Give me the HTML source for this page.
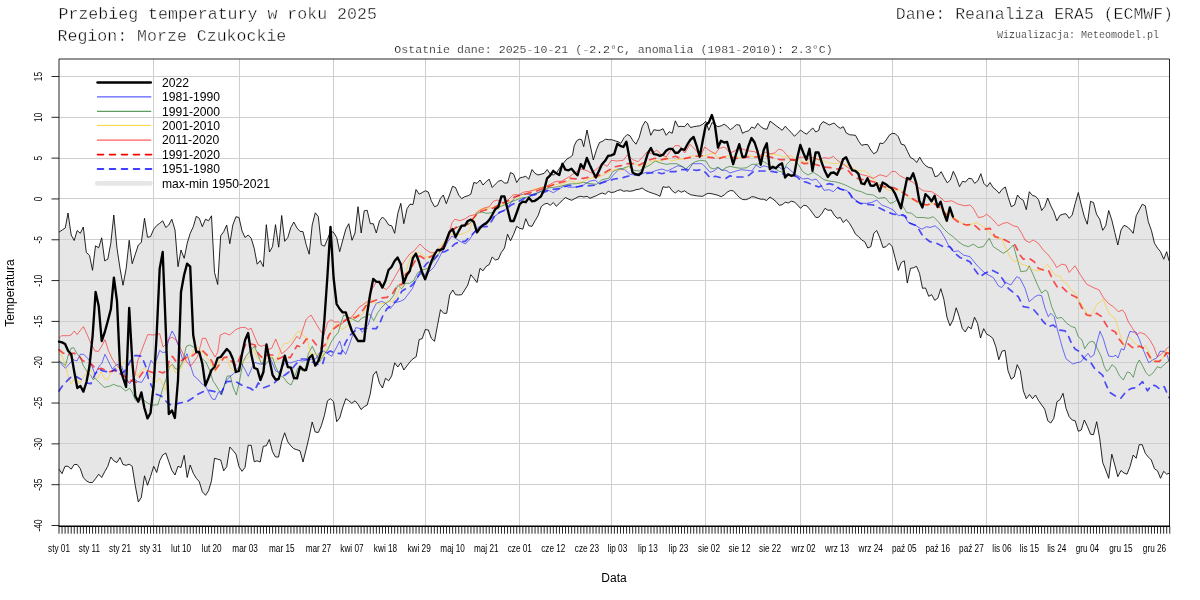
<!DOCTYPE html>
<html><head><meta charset="utf-8"><title>chart</title>
<style>
html,body{margin:0;padding:0;background:#fff;}
body{width:1200px;height:600px;overflow:hidden;position:relative;font-family:"Liberation Sans",sans-serif;}
svg{position:absolute;left:0;top:0;will-change:transform;}
.mono{font-family:"Liberation Mono",monospace;fill:#000;stroke:#fff;stroke-width:0.4px;}
.mono.sm{stroke-width:0.22px;fill:#111;}
.sans{font-family:"Liberation Sans",sans-serif;fill:#000;}
</style></head><body>
<svg width="1200" height="600" viewBox="0 0 1200 600">
<rect width="1200" height="600" fill="#fff"/>

<path d="M59.2,232.0 L62.2,230.0 L65.3,227.8 L68.0,213.0 L71.2,235.0 L74.2,240.5 L77.2,230.5 L80.3,233.3 L83.3,227.0 L86.3,252.5 L89.5,255.3 L92.5,270.3 L95.5,245.8 L98.7,247.8 L101.7,237.8 L104.7,260.8 L107.8,259.2 L110.8,243.3 L113.8,215.0 L117.0,248.3 L120.0,268.3 L123.0,285.3 L126.2,268.3 L129.2,240.3 L132.2,263.7 L135.3,254.2 L138.3,245.0 L141.3,242.5 L144.5,218.3 L147.5,237.2 L150.5,236.7 L153.7,229.2 L156.7,225.5 L159.7,223.3 L162.7,220.8 L165.8,227.5 L168.8,225.0 L171.8,219.2 L175.0,230.0 L178.0,266.7 L181.0,250.0 L184.2,258.3 L187.2,243.3 L190.2,233.3 L193.3,226.7 L196.3,216.3 L199.3,218.3 L202.3,226.7 L205.5,219.2 L208.5,220.8 L211.5,215.8 L214.5,272.5 L217.7,284.5 L220.7,235.8 L223.7,231.7 L226.7,225.0 L229.8,243.7 L232.8,225.0 L236.0,216.7 L239.0,217.5 L242.0,230.8 L245.0,237.5 L248.2,235.0 L251.2,238.3 L254.2,248.3 L257.2,264.2 L260.3,260.5 L263.3,266.7 L266.3,224.7 L269.5,252.0 L272.5,246.7 L275.5,224.7 L278.7,247.2 L281.7,215.5 L284.7,241.3 L287.8,237.5 L290.8,227.5 L293.8,222.0 L297.0,228.0 L300.0,231.3 L303.0,231.7 L306.2,244.7 L309.2,254.2 L312.2,225.0 L315.3,212.8 L318.3,216.7 L321.3,244.7 L324.5,246.2 L327.5,239.2 L330.5,231.7 L333.3,232.0 L336.7,237.5 L339.7,251.7 L342.8,240.0 L345.8,229.2 L348.8,223.7 L352.0,240.3 L355.0,233.0 L358.0,206.7 L361.2,233.0 L364.2,210.8 L367.2,210.3 L370.3,223.7 L373.3,223.7 L376.3,233.0 L379.5,220.8 L382.5,217.0 L385.5,220.0 L388.7,225.0 L391.7,225.8 L394.7,233.3 L397.8,213.3 L400.8,203.3 L403.8,223.7 L407.0,208.7 L410.0,204.2 L413.0,204.5 L416.0,189.5 L419.2,194.2 L422.2,192.5 L425.3,190.8 L428.3,192.0 L431.3,200.8 L434.5,206.7 L437.5,205.5 L440.5,198.3 L443.3,195.0 L446.3,203.7 L449.5,195.0 L452.5,186.3 L455.5,187.5 L458.7,195.0 L461.7,198.7 L464.7,196.7 L467.8,195.8 L470.8,194.2 L473.8,182.5 L477.0,183.3 L480.0,180.0 L483.0,185.0 L486.2,181.7 L489.2,179.2 L492.2,187.5 L495.3,184.2 L498.3,181.3 L501.3,180.3 L504.5,183.0 L507.5,183.0 L510.5,172.5 L513.7,174.2 L516.7,182.5 L519.7,178.0 L522.8,177.2 L525.8,176.3 L528.8,179.2 L532.0,169.5 L535.0,173.3 L538.0,175.0 L541.2,174.2 L544.2,173.3 L547.2,169.5 L550.3,174.2 L553.3,175.0 L556.7,172.5 L560.0,167.5 L563.3,163.3 L566.7,159.2 L569.7,157.5 L572.5,155.3 L574.2,145.8 L576.7,140.8 L579.2,139.2 L581.7,139.7 L583.7,146.7 L587.0,130.0 L590.0,144.2 L593.3,160.0 L596.7,149.2 L599.5,142.5 L602.5,141.3 L605.5,139.2 L608.7,139.7 L611.7,139.7 L615.0,140.8 L618.0,141.7 L620.8,143.3 L624.2,137.5 L627.2,134.5 L630.0,135.8 L633.0,140.8 L636.0,144.2 L639.2,137.5 L642.2,126.7 L645.2,121.3 L647.5,123.3 L650.8,135.3 L653.8,129.7 L657.0,130.3 L660.0,130.3 L663.0,128.7 L666.2,135.3 L669.2,131.7 L672.2,133.3 L675.3,120.8 L678.3,126.7 L681.3,126.3 L684.5,126.7 L687.5,123.3 L690.5,127.5 L693.7,126.7 L696.7,126.2 L699.7,125.8 L702.8,124.2 L705.8,121.3 L708.8,130.3 L712.0,122.5 L715.0,125.0 L718.0,126.7 L721.2,125.8 L724.2,124.2 L727.2,126.3 L730.3,129.7 L733.3,127.5 L736.3,124.7 L739.5,125.0 L742.5,133.3 L745.5,131.7 L748.7,130.8 L751.7,127.0 L754.7,128.3 L757.8,123.3 L760.8,126.7 L763.8,128.7 L767.0,129.2 L770.0,121.2 L773.0,123.3 L776.2,125.8 L779.2,128.0 L782.2,130.3 L785.3,126.2 L788.3,129.7 L791.3,132.5 L794.5,136.3 L797.5,133.3 L800.5,130.0 L803.7,132.5 L806.7,134.2 L809.7,130.8 L812.8,128.0 L815.8,132.0 L818.8,130.3 L820.0,125.3 L823.0,121.7 L826.0,123.0 L829.2,125.0 L832.2,123.7 L834.2,123.0 L837.2,126.2 L840.3,128.3 L843.3,126.7 L846.3,133.0 L849.5,134.7 L852.5,135.0 L855.5,135.3 L858.7,141.3 L861.7,145.3 L864.7,144.5 L867.8,144.7 L870.8,150.0 L873.8,153.8 L877.0,151.7 L880.0,143.0 L883.0,143.7 L886.2,140.0 L889.2,135.3 L892.2,133.3 L895.3,133.7 L898.3,136.7 L901.3,144.2 L904.5,145.0 L907.5,151.3 L910.5,157.5 L913.7,159.2 L916.7,162.5 L919.7,157.2 L922.8,162.5 L925.8,165.8 L928.8,167.5 L932.0,168.0 L935.0,176.7 L938.0,175.8 L941.2,171.7 L944.2,177.5 L947.2,182.8 L950.3,180.0 L953.3,171.3 L956.3,177.5 L959.5,186.7 L962.5,181.3 L965.5,182.0 L968.7,178.3 L971.7,178.7 L974.7,183.3 L977.8,180.8 L980.8,173.7 L983.8,183.3 L987.0,186.7 L990.0,182.5 L993.0,187.5 L996.2,190.0 L999.2,193.3 L1002.2,189.2 L1005.3,187.0 L1008.3,197.5 L1011.3,206.7 L1014.5,205.0 L1017.5,195.0 L1020.2,198.3 L1023.3,200.3 L1026.3,209.7 L1029.3,191.7 L1032.5,195.5 L1035.5,196.3 L1038.5,199.7 L1041.7,210.5 L1044.7,206.7 L1047.7,198.0 L1050.8,205.8 L1053.8,211.7 L1056.8,220.8 L1060.0,215.3 L1063.0,214.2 L1066.0,213.7 L1069.2,218.3 L1072.2,215.0 L1075.2,203.3 L1078.3,192.5 L1081.3,205.0 L1084.3,216.7 L1087.3,224.2 L1090.5,201.3 L1093.5,202.5 L1096.5,214.2 L1099.7,219.2 L1102.7,230.3 L1105.7,225.8 L1108.7,210.5 L1111.8,220.0 L1114.8,232.5 L1117.8,245.0 L1121.0,230.0 L1124.0,225.3 L1127.0,226.7 L1130.0,229.2 L1133.2,233.3 L1136.2,215.8 L1139.2,210.0 L1142.3,204.2 L1145.3,205.8 L1148.3,221.7 L1151.5,230.8 L1154.5,243.3 L1157.5,248.0 L1160.5,251.7 L1163.7,259.2 L1166.7,251.7 L1169.0,260.8 L1169.0,473.3 L1166.7,474.2 L1163.7,471.3 L1160.5,478.3 L1157.5,470.8 L1154.5,468.8 L1151.3,460.0 L1148.3,457.0 L1145.3,453.3 L1142.2,444.7 L1139.2,444.7 L1136.2,458.3 L1133.2,455.0 L1130.0,466.7 L1127.0,474.2 L1124.0,473.0 L1121.0,470.5 L1117.8,476.7 L1114.8,465.0 L1111.8,454.2 L1108.7,478.3 L1105.7,470.0 L1102.7,462.5 L1099.7,438.3 L1096.7,421.7 L1093.5,434.7 L1090.5,434.2 L1087.5,426.7 L1084.3,420.0 L1081.3,430.0 L1078.3,431.3 L1075.2,420.8 L1072.2,420.0 L1069.2,416.7 L1066.0,408.3 L1063.0,393.3 L1060.0,399.7 L1057.0,401.7 L1053.8,418.3 L1050.8,423.0 L1047.8,420.8 L1044.7,409.2 L1041.7,405.0 L1038.7,400.8 L1035.5,395.0 L1032.5,398.7 L1029.5,394.5 L1026.3,398.7 L1023.3,390.8 L1020.3,370.8 L1017.2,364.7 L1014.2,377.0 L1011.2,379.2 L1008.0,370.8 L1005.0,350.3 L1002.0,351.2 L998.8,359.7 L995.8,346.7 L992.8,338.3 L989.7,335.8 L986.7,334.2 L983.7,328.7 L980.5,338.0 L977.5,323.3 L974.5,317.2 L971.3,328.8 L968.3,326.7 L965.3,332.0 L962.2,328.3 L959.2,316.7 L956.2,307.8 L953.0,320.0 L950.0,325.8 L947.0,317.5 L943.8,299.2 L940.8,288.7 L937.8,298.3 L934.7,300.3 L931.7,294.7 L928.7,296.3 L925.5,288.0 L922.5,288.3 L919.5,273.3 L916.5,266.3 L913.5,267.8 L910.5,268.3 L907.3,283.0 L904.3,260.8 L901.3,262.5 L898.3,270.3 L895.2,258.3 L892.2,246.7 L889.2,243.3 L886.0,246.7 L883.0,247.5 L880.0,238.3 L876.7,230.5 L873.8,233.3 L870.8,246.7 L867.8,248.0 L864.7,241.7 L861.7,240.0 L858.7,236.7 L855.5,234.2 L852.5,228.3 L849.5,223.3 L846.3,219.5 L843.3,222.5 L840.3,217.5 L837.2,218.3 L834.2,215.0 L831.2,210.0 L828.0,210.3 L825.0,208.3 L822.0,213.3 L818.8,217.2 L815.8,217.5 L812.8,213.3 L809.7,209.2 L806.7,205.8 L803.7,205.3 L800.5,208.3 L797.5,205.0 L794.5,202.0 L791.3,201.2 L788.3,203.0 L785.3,202.2 L782.2,204.7 L779.2,205.3 L776.2,201.7 L773.0,199.2 L770.0,197.0 L766.7,200.5 L763.3,199.2 L760.8,199.2 L757.8,198.3 L754.7,197.0 L751.7,196.7 L748.7,198.7 L745.5,199.7 L742.5,199.5 L739.5,197.5 L736.3,194.2 L733.3,190.8 L730.3,190.5 L727.2,192.2 L724.2,195.0 L721.2,196.7 L718.0,195.3 L715.0,194.5 L712.0,193.8 L708.8,193.3 L705.8,194.2 L702.8,196.3 L699.7,196.2 L696.7,195.8 L693.7,195.3 L690.5,194.7 L687.5,193.0 L684.5,190.8 L681.3,192.2 L678.3,190.5 L675.3,193.0 L672.2,190.8 L669.2,186.7 L666.2,187.5 L663.0,186.7 L660.0,196.3 L657.5,195.0 L654.3,193.8 L651.3,192.8 L648.3,191.7 L645.2,190.3 L642.2,188.0 L639.2,189.2 L636.0,189.7 L633.0,190.8 L629.7,191.3 L626.7,190.8 L623.7,191.3 L620.5,189.7 L617.5,190.5 L614.5,192.0 L611.3,192.5 L608.3,191.3 L605.3,194.2 L602.2,193.0 L599.2,194.2 L596.2,195.8 L593.0,197.0 L590.0,198.3 L587.0,196.3 L583.8,197.0 L580.8,196.3 L577.8,197.0 L574.7,198.7 L571.7,200.3 L568.7,199.2 L565.5,197.5 L562.5,200.0 L559.5,203.3 L556.3,206.3 L553.3,202.5 L550.3,205.3 L547.2,203.3 L544.2,204.2 L541.2,206.7 L538.0,215.8 L535.0,220.8 L532.0,226.3 L528.8,225.8 L525.8,218.7 L522.8,229.2 L519.7,228.3 L516.7,226.3 L513.7,234.2 L510.5,240.8 L507.5,234.2 L504.5,248.0 L501.3,252.5 L498.3,259.2 L495.3,260.0 L492.2,257.0 L489.2,264.7 L486.2,266.3 L483.0,270.8 L480.0,268.3 L477.0,282.5 L473.8,278.3 L470.8,274.7 L467.8,285.0 L464.7,290.0 L461.7,294.7 L458.7,295.0 L455.5,294.7 L452.8,290.0 L449.7,295.0 L446.7,313.3 L443.7,313.3 L440.5,309.7 L437.5,325.3 L434.5,341.3 L431.3,338.3 L428.3,330.0 L425.3,329.5 L422.2,338.7 L419.2,339.5 L416.2,356.7 L413.0,358.8 L410.0,361.7 L407.0,365.8 L403.8,370.0 L400.8,362.8 L397.8,367.0 L394.7,362.8 L391.7,375.8 L388.7,380.8 L385.5,378.3 L382.5,388.0 L379.5,383.3 L376.3,371.3 L373.3,375.0 L370.2,394.2 L367.2,405.0 L364.2,406.7 L361.0,409.5 L358.0,404.2 L355.0,400.8 L351.8,403.3 L348.8,400.8 L345.8,398.7 L342.7,407.5 L339.7,418.0 L336.7,421.7 L333.5,401.7 L330.5,398.7 L327.5,400.8 L324.3,415.8 L321.3,425.8 L318.3,432.5 L315.2,432.0 L312.2,422.0 L309.2,436.7 L306.0,450.0 L303.0,462.0 L300.0,450.8 L296.8,449.7 L293.8,448.7 L290.8,445.8 L287.7,441.7 L284.7,432.8 L281.7,441.7 L278.5,457.0 L275.5,457.0 L272.5,451.7 L269.3,439.5 L266.3,445.8 L263.3,446.3 L260.2,462.0 L257.2,460.8 L254.2,461.7 L251.2,445.3 L248.2,445.3 L245.0,467.5 L242.0,471.3 L239.0,466.7 L236.0,454.2 L232.8,450.3 L229.8,447.0 L226.7,466.7 L223.7,470.8 L220.7,460.0 L217.7,459.2 L214.5,458.3 L211.5,480.8 L208.5,490.8 L205.5,495.3 L202.3,491.7 L199.3,481.7 L196.3,478.3 L193.3,473.3 L190.2,465.0 L187.2,477.5 L184.2,455.3 L181.0,467.5 L178.0,466.3 L175.0,475.0 L171.8,470.3 L168.8,461.7 L165.8,453.0 L162.7,455.0 L159.7,460.8 L156.7,472.5 L153.7,466.3 L150.5,476.7 L147.5,485.3 L144.5,475.8 L141.3,497.5 L138.3,502.0 L135.3,485.8 L132.2,466.3 L129.2,464.2 L126.2,465.3 L123.0,464.5 L120.0,457.5 L117.0,462.5 L113.8,460.8 L110.8,457.0 L107.8,466.3 L104.7,471.7 L101.7,477.5 L98.7,474.2 L95.5,478.7 L92.5,482.5 L89.5,482.5 L86.3,480.8 L83.3,477.5 L80.3,468.7 L77.2,464.5 L74.2,464.5 L71.2,469.2 L68.0,466.3 L65.0,466.3 L62.0,473.7 L59.0,469.2 Z" fill="#e6e6e6" stroke="none"/>
<line x1="153.5" y1="59" x2="153.5" y2="526" stroke="#cecece" stroke-width="1"/>
<line x1="239.5" y1="59" x2="239.5" y2="526" stroke="#cecece" stroke-width="1"/>
<line x1="333.5" y1="59" x2="333.5" y2="526" stroke="#cecece" stroke-width="1"/>
<line x1="425.5" y1="59" x2="425.5" y2="526" stroke="#cecece" stroke-width="1"/>
<line x1="519.5" y1="59" x2="519.5" y2="526" stroke="#cecece" stroke-width="1"/>
<line x1="611.5" y1="59" x2="611.5" y2="526" stroke="#cecece" stroke-width="1"/>
<line x1="705.5" y1="59" x2="705.5" y2="526" stroke="#cecece" stroke-width="1"/>
<line x1="800.5" y1="59" x2="800.5" y2="526" stroke="#cecece" stroke-width="1"/>
<line x1="892.5" y1="59" x2="892.5" y2="526" stroke="#cecece" stroke-width="1"/>
<line x1="986.5" y1="59" x2="986.5" y2="526" stroke="#cecece" stroke-width="1"/>
<line x1="1078.5" y1="59" x2="1078.5" y2="526" stroke="#cecece" stroke-width="1"/>
<line x1="59" y1="484.50" x2="1169.5" y2="484.50" stroke="#cecece" stroke-width="1"/>
<line x1="59" y1="443.50" x2="1169.5" y2="443.50" stroke="#cecece" stroke-width="1"/>
<line x1="59" y1="403.50" x2="1169.5" y2="403.50" stroke="#cecece" stroke-width="1"/>
<line x1="59" y1="362.50" x2="1169.5" y2="362.50" stroke="#cecece" stroke-width="1"/>
<line x1="59" y1="321.50" x2="1169.5" y2="321.50" stroke="#cecece" stroke-width="1"/>
<line x1="59" y1="280.50" x2="1169.5" y2="280.50" stroke="#cecece" stroke-width="1"/>
<line x1="59" y1="239.50" x2="1169.5" y2="239.50" stroke="#cecece" stroke-width="1"/>
<line x1="59" y1="198.50" x2="1169.5" y2="198.50" stroke="#cecece" stroke-width="1"/>
<line x1="59" y1="158.50" x2="1169.5" y2="158.50" stroke="#cecece" stroke-width="1"/>
<line x1="59" y1="117.50" x2="1169.5" y2="117.50" stroke="#cecece" stroke-width="1"/>
<line x1="59" y1="76.50" x2="1169.5" y2="76.50" stroke="#cecece" stroke-width="1"/>
<path d="M59.2,232.0 L62.2,230.0 L65.3,227.8 L68.0,213.0 L71.2,235.0 L74.2,240.5 L77.2,230.5 L80.3,233.3 L83.3,227.0 L86.3,252.5 L89.5,255.3 L92.5,270.3 L95.5,245.8 L98.7,247.8 L101.7,237.8 L104.7,260.8 L107.8,259.2 L110.8,243.3 L113.8,215.0 L117.0,248.3 L120.0,268.3 L123.0,285.3 L126.2,268.3 L129.2,240.3 L132.2,263.7 L135.3,254.2 L138.3,245.0 L141.3,242.5 L144.5,218.3 L147.5,237.2 L150.5,236.7 L153.7,229.2 L156.7,225.5 L159.7,223.3 L162.7,220.8 L165.8,227.5 L168.8,225.0 L171.8,219.2 L175.0,230.0 L178.0,266.7 L181.0,250.0 L184.2,258.3 L187.2,243.3 L190.2,233.3 L193.3,226.7 L196.3,216.3 L199.3,218.3 L202.3,226.7 L205.5,219.2 L208.5,220.8 L211.5,215.8 L214.5,272.5 L217.7,284.5 L220.7,235.8 L223.7,231.7 L226.7,225.0 L229.8,243.7 L232.8,225.0 L236.0,216.7 L239.0,217.5 L242.0,230.8 L245.0,237.5 L248.2,235.0 L251.2,238.3 L254.2,248.3 L257.2,264.2 L260.3,260.5 L263.3,266.7 L266.3,224.7 L269.5,252.0 L272.5,246.7 L275.5,224.7 L278.7,247.2 L281.7,215.5 L284.7,241.3 L287.8,237.5 L290.8,227.5 L293.8,222.0 L297.0,228.0 L300.0,231.3 L303.0,231.7 L306.2,244.7 L309.2,254.2 L312.2,225.0 L315.3,212.8 L318.3,216.7 L321.3,244.7 L324.5,246.2 L327.5,239.2 L330.5,231.7 L333.3,232.0 L336.7,237.5 L339.7,251.7 L342.8,240.0 L345.8,229.2 L348.8,223.7 L352.0,240.3 L355.0,233.0 L358.0,206.7 L361.2,233.0 L364.2,210.8 L367.2,210.3 L370.3,223.7 L373.3,223.7 L376.3,233.0 L379.5,220.8 L382.5,217.0 L385.5,220.0 L388.7,225.0 L391.7,225.8 L394.7,233.3 L397.8,213.3 L400.8,203.3 L403.8,223.7 L407.0,208.7 L410.0,204.2 L413.0,204.5 L416.0,189.5 L419.2,194.2 L422.2,192.5 L425.3,190.8 L428.3,192.0 L431.3,200.8 L434.5,206.7 L437.5,205.5 L440.5,198.3 L443.3,195.0 L446.3,203.7 L449.5,195.0 L452.5,186.3 L455.5,187.5 L458.7,195.0 L461.7,198.7 L464.7,196.7 L467.8,195.8 L470.8,194.2 L473.8,182.5 L477.0,183.3 L480.0,180.0 L483.0,185.0 L486.2,181.7 L489.2,179.2 L492.2,187.5 L495.3,184.2 L498.3,181.3 L501.3,180.3 L504.5,183.0 L507.5,183.0 L510.5,172.5 L513.7,174.2 L516.7,182.5 L519.7,178.0 L522.8,177.2 L525.8,176.3 L528.8,179.2 L532.0,169.5 L535.0,173.3 L538.0,175.0 L541.2,174.2 L544.2,173.3 L547.2,169.5 L550.3,174.2 L553.3,175.0 L556.7,172.5 L560.0,167.5 L563.3,163.3 L566.7,159.2 L569.7,157.5 L572.5,155.3 L574.2,145.8 L576.7,140.8 L579.2,139.2 L581.7,139.7 L583.7,146.7 L587.0,130.0 L590.0,144.2 L593.3,160.0 L596.7,149.2 L599.5,142.5 L602.5,141.3 L605.5,139.2 L608.7,139.7 L611.7,139.7 L615.0,140.8 L618.0,141.7 L620.8,143.3 L624.2,137.5 L627.2,134.5 L630.0,135.8 L633.0,140.8 L636.0,144.2 L639.2,137.5 L642.2,126.7 L645.2,121.3 L647.5,123.3 L650.8,135.3 L653.8,129.7 L657.0,130.3 L660.0,130.3 L663.0,128.7 L666.2,135.3 L669.2,131.7 L672.2,133.3 L675.3,120.8 L678.3,126.7 L681.3,126.3 L684.5,126.7 L687.5,123.3 L690.5,127.5 L693.7,126.7 L696.7,126.2 L699.7,125.8 L702.8,124.2 L705.8,121.3 L708.8,130.3 L712.0,122.5 L715.0,125.0 L718.0,126.7 L721.2,125.8 L724.2,124.2 L727.2,126.3 L730.3,129.7 L733.3,127.5 L736.3,124.7 L739.5,125.0 L742.5,133.3 L745.5,131.7 L748.7,130.8 L751.7,127.0 L754.7,128.3 L757.8,123.3 L760.8,126.7 L763.8,128.7 L767.0,129.2 L770.0,121.2 L773.0,123.3 L776.2,125.8 L779.2,128.0 L782.2,130.3 L785.3,126.2 L788.3,129.7 L791.3,132.5 L794.5,136.3 L797.5,133.3 L800.5,130.0 L803.7,132.5 L806.7,134.2 L809.7,130.8 L812.8,128.0 L815.8,132.0 L818.8,130.3 L820.0,125.3 L823.0,121.7 L826.0,123.0 L829.2,125.0 L832.2,123.7 L834.2,123.0 L837.2,126.2 L840.3,128.3 L843.3,126.7 L846.3,133.0 L849.5,134.7 L852.5,135.0 L855.5,135.3 L858.7,141.3 L861.7,145.3 L864.7,144.5 L867.8,144.7 L870.8,150.0 L873.8,153.8 L877.0,151.7 L880.0,143.0 L883.0,143.7 L886.2,140.0 L889.2,135.3 L892.2,133.3 L895.3,133.7 L898.3,136.7 L901.3,144.2 L904.5,145.0 L907.5,151.3 L910.5,157.5 L913.7,159.2 L916.7,162.5 L919.7,157.2 L922.8,162.5 L925.8,165.8 L928.8,167.5 L932.0,168.0 L935.0,176.7 L938.0,175.8 L941.2,171.7 L944.2,177.5 L947.2,182.8 L950.3,180.0 L953.3,171.3 L956.3,177.5 L959.5,186.7 L962.5,181.3 L965.5,182.0 L968.7,178.3 L971.7,178.7 L974.7,183.3 L977.8,180.8 L980.8,173.7 L983.8,183.3 L987.0,186.7 L990.0,182.5 L993.0,187.5 L996.2,190.0 L999.2,193.3 L1002.2,189.2 L1005.3,187.0 L1008.3,197.5 L1011.3,206.7 L1014.5,205.0 L1017.5,195.0 L1020.2,198.3 L1023.3,200.3 L1026.3,209.7 L1029.3,191.7 L1032.5,195.5 L1035.5,196.3 L1038.5,199.7 L1041.7,210.5 L1044.7,206.7 L1047.7,198.0 L1050.8,205.8 L1053.8,211.7 L1056.8,220.8 L1060.0,215.3 L1063.0,214.2 L1066.0,213.7 L1069.2,218.3 L1072.2,215.0 L1075.2,203.3 L1078.3,192.5 L1081.3,205.0 L1084.3,216.7 L1087.3,224.2 L1090.5,201.3 L1093.5,202.5 L1096.5,214.2 L1099.7,219.2 L1102.7,230.3 L1105.7,225.8 L1108.7,210.5 L1111.8,220.0 L1114.8,232.5 L1117.8,245.0 L1121.0,230.0 L1124.0,225.3 L1127.0,226.7 L1130.0,229.2 L1133.2,233.3 L1136.2,215.8 L1139.2,210.0 L1142.3,204.2 L1145.3,205.8 L1148.3,221.7 L1151.5,230.8 L1154.5,243.3 L1157.5,248.0 L1160.5,251.7 L1163.7,259.2 L1166.7,251.7 L1169.0,260.8" fill="none" stroke="#000" stroke-width="0.85" stroke-linejoin="round"/>
<path d="M59.0,469.2 L62.0,473.7 L65.0,466.3 L68.0,466.3 L71.2,469.2 L74.2,464.5 L77.2,464.5 L80.3,468.7 L83.3,477.5 L86.3,480.8 L89.5,482.5 L92.5,482.5 L95.5,478.7 L98.7,474.2 L101.7,477.5 L104.7,471.7 L107.8,466.3 L110.8,457.0 L113.8,460.8 L117.0,462.5 L120.0,457.5 L123.0,464.5 L126.2,465.3 L129.2,464.2 L132.2,466.3 L135.3,485.8 L138.3,502.0 L141.3,497.5 L144.5,475.8 L147.5,485.3 L150.5,476.7 L153.7,466.3 L156.7,472.5 L159.7,460.8 L162.7,455.0 L165.8,453.0 L168.8,461.7 L171.8,470.3 L175.0,475.0 L178.0,466.3 L181.0,467.5 L184.2,455.3 L187.2,477.5 L190.2,465.0 L193.3,473.3 L196.3,478.3 L199.3,481.7 L202.3,491.7 L205.5,495.3 L208.5,490.8 L211.5,480.8 L214.5,458.3 L217.7,459.2 L220.7,460.0 L223.7,470.8 L226.7,466.7 L229.8,447.0 L232.8,450.3 L236.0,454.2 L239.0,466.7 L242.0,471.3 L245.0,467.5 L248.2,445.3 L251.2,445.3 L254.2,461.7 L257.2,460.8 L260.2,462.0 L263.3,446.3 L266.3,445.8 L269.3,439.5 L272.5,451.7 L275.5,457.0 L278.5,457.0 L281.7,441.7 L284.7,432.8 L287.7,441.7 L290.8,445.8 L293.8,448.7 L296.8,449.7 L300.0,450.8 L303.0,462.0 L306.0,450.0 L309.2,436.7 L312.2,422.0 L315.2,432.0 L318.3,432.5 L321.3,425.8 L324.3,415.8 L327.5,400.8 L330.5,398.7 L333.5,401.7 L336.7,421.7 L339.7,418.0 L342.7,407.5 L345.8,398.7 L348.8,400.8 L351.8,403.3 L355.0,400.8 L358.0,404.2 L361.0,409.5 L364.2,406.7 L367.2,405.0 L370.2,394.2 L373.3,375.0 L376.3,371.3 L379.5,383.3 L382.5,388.0 L385.5,378.3 L388.7,380.8 L391.7,375.8 L394.7,362.8 L397.8,367.0 L400.8,362.8 L403.8,370.0 L407.0,365.8 L410.0,361.7 L413.0,358.8 L416.2,356.7 L419.2,339.5 L422.2,338.7 L425.3,329.5 L428.3,330.0 L431.3,338.3 L434.5,341.3 L437.5,325.3 L440.5,309.7 L443.7,313.3 L446.7,313.3 L449.7,295.0 L452.8,290.0 L455.5,294.7 L458.7,295.0 L461.7,294.7 L464.7,290.0 L467.8,285.0 L470.8,274.7 L473.8,278.3 L477.0,282.5 L480.0,268.3 L483.0,270.8 L486.2,266.3 L489.2,264.7 L492.2,257.0 L495.3,260.0 L498.3,259.2 L501.3,252.5 L504.5,248.0 L507.5,234.2 L510.5,240.8 L513.7,234.2 L516.7,226.3 L519.7,228.3 L522.8,229.2 L525.8,218.7 L528.8,225.8 L532.0,226.3 L535.0,220.8 L538.0,215.8 L541.2,206.7 L544.2,204.2 L547.2,203.3 L550.3,205.3 L553.3,202.5 L556.3,206.3 L559.5,203.3 L562.5,200.0 L565.5,197.5 L568.7,199.2 L571.7,200.3 L574.7,198.7 L577.8,197.0 L580.8,196.3 L583.8,197.0 L587.0,196.3 L590.0,198.3 L593.0,197.0 L596.2,195.8 L599.2,194.2 L602.2,193.0 L605.3,194.2 L608.3,191.3 L611.3,192.5 L614.5,192.0 L617.5,190.5 L620.5,189.7 L623.7,191.3 L626.7,190.8 L629.7,191.3 L633.0,190.8 L636.0,189.7 L639.2,189.2 L642.2,188.0 L645.2,190.3 L648.3,191.7 L651.3,192.8 L654.3,193.8 L657.5,195.0 L660.0,196.3 L663.0,186.7 L666.2,187.5 L669.2,186.7 L672.2,190.8 L675.3,193.0 L678.3,190.5 L681.3,192.2 L684.5,190.8 L687.5,193.0 L690.5,194.7 L693.7,195.3 L696.7,195.8 L699.7,196.2 L702.8,196.3 L705.8,194.2 L708.8,193.3 L712.0,193.8 L715.0,194.5 L718.0,195.3 L721.2,196.7 L724.2,195.0 L727.2,192.2 L730.3,190.5 L733.3,190.8 L736.3,194.2 L739.5,197.5 L742.5,199.5 L745.5,199.7 L748.7,198.7 L751.7,196.7 L754.7,197.0 L757.8,198.3 L760.8,199.2 L763.3,199.2 L766.7,200.5 L770.0,197.0 L773.0,199.2 L776.2,201.7 L779.2,205.3 L782.2,204.7 L785.3,202.2 L788.3,203.0 L791.3,201.2 L794.5,202.0 L797.5,205.0 L800.5,208.3 L803.7,205.3 L806.7,205.8 L809.7,209.2 L812.8,213.3 L815.8,217.5 L818.8,217.2 L822.0,213.3 L825.0,208.3 L828.0,210.3 L831.2,210.0 L834.2,215.0 L837.2,218.3 L840.3,217.5 L843.3,222.5 L846.3,219.5 L849.5,223.3 L852.5,228.3 L855.5,234.2 L858.7,236.7 L861.7,240.0 L864.7,241.7 L867.8,248.0 L870.8,246.7 L873.8,233.3 L876.7,230.5 L880.0,238.3 L883.0,247.5 L886.0,246.7 L889.2,243.3 L892.2,246.7 L895.2,258.3 L898.3,270.3 L901.3,262.5 L904.3,260.8 L907.3,283.0 L910.5,268.3 L913.5,267.8 L916.5,266.3 L919.5,273.3 L922.5,288.3 L925.5,288.0 L928.7,296.3 L931.7,294.7 L934.7,300.3 L937.8,298.3 L940.8,288.7 L943.8,299.2 L947.0,317.5 L950.0,325.8 L953.0,320.0 L956.2,307.8 L959.2,316.7 L962.2,328.3 L965.3,332.0 L968.3,326.7 L971.3,328.8 L974.5,317.2 L977.5,323.3 L980.5,338.0 L983.7,328.7 L986.7,334.2 L989.7,335.8 L992.8,338.3 L995.8,346.7 L998.8,359.7 L1002.0,351.2 L1005.0,350.3 L1008.0,370.8 L1011.2,379.2 L1014.2,377.0 L1017.2,364.7 L1020.3,370.8 L1023.3,390.8 L1026.3,398.7 L1029.5,394.5 L1032.5,398.7 L1035.5,395.0 L1038.7,400.8 L1041.7,405.0 L1044.7,409.2 L1047.8,420.8 L1050.8,423.0 L1053.8,418.3 L1057.0,401.7 L1060.0,399.7 L1063.0,393.3 L1066.0,408.3 L1069.2,416.7 L1072.2,420.0 L1075.2,420.8 L1078.3,431.3 L1081.3,430.0 L1084.3,420.0 L1087.5,426.7 L1090.5,434.2 L1093.5,434.7 L1096.7,421.7 L1099.7,438.3 L1102.7,462.5 L1105.7,470.0 L1108.7,478.3 L1111.8,454.2 L1114.8,465.0 L1117.8,476.7 L1121.0,470.5 L1124.0,473.0 L1127.0,474.2 L1130.0,466.7 L1133.2,455.0 L1136.2,458.3 L1139.2,444.7 L1142.2,444.7 L1145.3,453.3 L1148.3,457.0 L1151.3,460.0 L1154.5,468.8 L1157.5,470.8 L1160.5,478.3 L1163.7,471.3 L1166.7,474.2 L1169.0,473.3" fill="none" stroke="#000" stroke-width="0.85" stroke-linejoin="round"/>
<path d="M59.0,361.0 L62.3,365.0 L65.4,368.3 L68.3,365.0 L73.0,359.7 L77.0,361.0 L80.3,354.3 L83.7,354.3 L87.7,358.3 L91.0,363.7 L95.0,374.3 L99.0,366.3 L101.7,363.7 L105.0,354.3 L108.3,361.0 L112.3,369.0 L117.0,364.3 L121.7,366.3 L125.7,377.7 L129.7,383.7 L133.7,378.3 L137.7,381.7 L141.7,382.3 L145.7,375.7 L148.3,369.0 L151.0,360.3 L154.3,364.3 L157.0,358.3 L159.7,350.3 L162.3,352.3 L165.7,352.3 L169.0,338.3 L172.1,331.0 L175.0,336.3 L179.0,347.7 L183.0,360.3 L187.0,353.7 L190.3,365.0 L193.7,375.7 L197.7,379.0 L201.7,383.7 L205.7,386.3 L209.7,394.3 L212.3,399.0 L215.0,399.7 L218.3,392.3 L222.3,391.0 L226.3,380.3 L230.3,376.3 L233.7,373.7 L238.3,367.7 L241.7,363.7 L245.0,369.7 L248.3,376.3 L251.7,368.3 L255.0,362.3 L258.3,363.7 L262.3,364.3 L265.7,355.0 L269.0,355.0 L272.3,363.0 L275.7,371.0 L279.0,372.3 L282.3,367.0 L286.3,361.7 L290.3,363.0 L294.3,361.7 L298.3,360.3 L302.3,361.0 L306.3,360.3 L311.7,359.0 L315.7,359.0 L319.7,352.3 L323.7,351.0 L327.7,353.7 L331.7,356.3 L336.3,347.7 L339.7,341.0 L342.3,349.7 L345.7,354.3 L349.0,345.7 L352.3,336.3 L355.7,327.7 L359.7,328.3 L362.3,332.3 L365.0,329.0 L368.3,324.7 L372.3,311.3 L376.3,303.3 L381.7,301.3 L385.7,303.3 L390.3,308.7 L395.0,302.7 L400.3,301.3 L404.3,299.3 L408.3,294.0 L412.3,288.7 L416.3,279.3 L420.3,274.0 L424.3,274.7 L429.7,271.3 L433.7,267.3 L437.7,260.7 L441.7,252.7 L444.0,249.3 L448.0,241.3 L452.0,236.0 L456.0,238.7 L460.0,241.3 L465.3,244.0 L469.3,240.0 L473.3,233.3 L477.3,228.0 L481.3,225.3 L485.3,222.7 L489.3,220.0 L493.3,217.3 L498.7,213.3 L504.0,210.7 L508.0,206.7 L512.0,201.3 L516.0,196.7 L521.3,194.7 L526.7,194.0 L532.0,194.7 L537.3,193.3 L542.7,190.7 L548.0,190.0 L553.3,192.7 L558.7,189.3 L564.0,186.0 L569.3,187.3 L576.7,187.0 L583.3,185.0 L590.0,181.0 L595.3,180.3 L599.3,183.7 L604.7,181.0 L608.7,180.3 L614.0,174.3 L619.3,169.0 L624.7,169.7 L630.0,174.3 L635.3,175.0 L640.7,174.3 L646.0,172.3 L651.3,172.3 L656.7,170.3 L662.0,169.0 L667.3,171.0 L672.7,168.3 L678.0,165.7 L683.3,167.0 L687.3,171.7 L692.7,163.7 L698.0,163.7 L702.0,163.7 L706.0,167.7 L710.0,172.3 L714.0,171.0 L718.0,167.7 L722.0,170.3 L726.0,170.3 L730.0,173.0 L736.0,171.0 L741.3,169.7 L746.7,170.3 L752.0,171.0 L756.0,165.0 L760.0,167.7 L764.0,165.7 L768.0,167.0 L773.3,169.0 L778.7,167.0 L782.7,169.7 L786.7,167.0 L790.7,170.3 L794.7,174.3 L798.7,176.3 L802.7,179.0 L808.0,178.3 L812.0,180.3 L816.0,179.0 L820.0,183.7 L824.0,190.3 L829.3,189.7 L833.3,191.7 L837.3,187.7 L842.7,189.7 L846.7,190.3 L850.7,194.3 L853.3,198.3 L860.0,203.3 L866.7,203.3 L871.7,202.5 L876.7,200.0 L881.7,205.0 L888.3,207.5 L893.3,210.0 L898.3,215.8 L903.3,214.2 L908.3,222.5 L915.0,225.0 L921.7,229.2 L926.7,226.7 L930.0,227.5 L935.0,225.8 L940.0,230.0 L945.0,238.3 L948.3,245.0 L953.3,251.7 L958.3,250.8 L963.3,255.0 L970.0,256.7 L976.7,265.0 L983.3,271.7 L988.3,275.0 L993.3,277.5 L998.3,285.8 L1001.7,287.5 L1005.8,282.5 L1010.8,285.0 L1016.7,276.7 L1020.0,278.3 L1025.0,288.3 L1029.2,301.7 L1035.0,296.7 L1038.3,295.0 L1041.7,295.8 L1045.0,308.3 L1048.3,316.7 L1050.8,313.3 L1054.2,316.7 L1057.5,330.0 L1059.3,336.7 L1062.7,348.7 L1066.0,358.7 L1069.3,361.3 L1072.7,364.0 L1076.7,362.7 L1080.7,362.0 L1084.7,357.3 L1088.0,353.3 L1090.7,357.3 L1094.0,354.7 L1096.7,343.3 L1100.0,331.3 L1103.3,338.7 L1106.0,348.0 L1108.7,356.0 L1112.7,356.7 L1116.0,355.3 L1118.0,358.0 L1121.3,348.7 L1124.0,350.0 L1127.3,338.7 L1130.0,331.3 L1132.7,332.0 L1136.0,332.0 L1139.3,339.3 L1142.0,346.7 L1145.3,354.7 L1148.7,362.7 L1152.7,360.0 L1156.7,358.0 L1160.0,351.3 L1164.0,351.3 L1167.3,355.3 L1168.9,361.3" fill="none" stroke="#0000ff" stroke-width="1.0" stroke-opacity="0.55" stroke-linejoin="round"/>
<path d="M59.0,361.0 L62.3,363.0 L65.4,365.7 L68.3,355.0 L71.0,348.3 L73.7,347.7 L77.0,353.7 L80.3,357.0 L83.0,365.0 L87.0,371.7 L91.0,375.7 L93.0,379.7 L95.0,378.3 L99.0,382.3 L104.3,387.4 L109.7,386.1 L113.7,384.3 L117.7,386.1 L120.3,386.3 L125.7,391.0 L129.7,388.3 L132.3,392.3 L135.0,399.7 L138.3,402.3 L141.7,398.3 L145.7,401.7 L151.0,405.0 L157.7,405.0 L160.3,397.0 L163.0,387.7 L166.3,378.3 L169.7,366.3 L172.3,364.3 L175.7,369.0 L179.0,369.0 L183.0,361.0 L186.3,346.3 L189.7,345.0 L193.7,347.0 L197.7,351.7 L201.7,358.3 L205.7,361.7 L209.7,370.3 L213.0,381.0 L215.0,383.7 L217.0,387.0 L221.7,395.0 L224.3,385.7 L227.0,376.3 L230.3,375.7 L233.0,387.0 L236.3,395.0 L239.7,380.3 L243.0,361.7 L246.3,355.7 L250.3,351.0 L254.3,346.3 L257.7,353.7 L261.0,363.0 L265.0,365.0 L269.0,360.3 L272.3,357.0 L275.7,367.0 L279.7,375.0 L283.7,377.7 L287.7,383.0 L291.0,385.0 L294.3,377.7 L297.7,368.3 L301.0,369.7 L305.0,371.7 L308.3,353.7 L312.3,346.3 L315.7,353.7 L319.7,361.7 L323.7,355.0 L327.7,349.7 L331.7,341.0 L335.0,336.3 L338.3,332.3 L341.0,323.0 L343.7,315.0 L358.3,322.0 L361.7,318.0 L365.7,316.7 L369.7,314.0 L373.7,320.7 L377.7,312.7 L381.7,307.3 L385.7,303.3 L389.7,300.7 L393.7,295.3 L397.7,285.3 L401.7,288.7 L405.7,283.3 L409.7,283.3 L413.7,280.7 L417.7,272.7 L421.7,270.0 L427.0,268.7 L431.0,264.7 L435.0,259.3 L439.0,253.3 L449.3,233.3 L453.3,229.3 L458.7,226.7 L464.0,225.3 L469.3,224.0 L473.3,218.7 L477.3,213.3 L481.3,212.0 L486.7,213.3 L492.0,212.7 L496.0,210.0 L500.0,206.7 L505.3,204.7 L510.7,202.0 L516.0,200.0 L521.3,198.0 L526.7,197.3 L532.0,194.7 L537.3,192.7 L542.7,190.7 L548.0,188.0 L553.3,187.3 L558.7,186.7 L564.0,185.3 L569.3,184.0 L576.7,183.7 L583.3,182.3 L590.0,183.7 L596.7,184.3 L602.0,179.7 L608.7,178.3 L612.7,171.7 L618.0,169.0 L623.3,168.3 L628.7,166.3 L634.0,170.3 L639.3,171.0 L644.7,167.7 L650.0,165.0 L655.3,161.0 L660.7,163.0 L666.0,164.3 L671.3,163.7 L676.7,163.7 L682.0,166.3 L686.0,169.0 L690.0,165.0 L695.3,161.7 L700.7,160.3 L706.0,161.0 L710.0,167.7 L714.0,169.0 L718.0,167.0 L722.0,170.3 L726.0,167.7 L730.0,166.3 L736.0,167.7 L741.3,168.3 L746.7,167.7 L752.0,164.3 L757.3,164.3 L762.7,161.0 L768.0,164.3 L773.3,167.7 L778.7,171.0 L782.7,172.3 L786.7,164.3 L790.7,160.3 L794.7,160.3 L798.7,165.0 L802.7,171.7 L808.0,175.0 L813.3,172.3 L818.7,175.7 L824.0,179.7 L829.3,181.0 L834.7,181.7 L840.0,183.0 L845.3,185.0 L850.7,187.7 L856.0,190.3 L861.3,191.7 L866.7,194.2 L873.3,195.0 L878.3,198.3 L885.0,197.5 L890.0,203.3 L893.3,202.5 L896.7,200.0 L901.7,204.2 L906.7,212.5 L911.7,213.3 L916.7,217.5 L923.3,217.5 L928.3,218.3 L933.3,216.7 L938.3,221.7 L943.3,228.3 L948.3,233.3 L953.3,236.7 L958.3,241.7 L963.3,245.0 L968.3,246.7 L973.3,244.2 L978.3,247.5 L983.3,246.7 L989.2,238.3 L993.3,246.7 L998.3,250.0 L1003.3,253.3 L1008.3,250.0 L1013.3,245.0 L1017.5,260.0 L1020.8,271.7 L1026.7,270.8 L1029.2,265.8 L1033.3,275.0 L1037.5,285.0 L1041.7,293.3 L1045.0,290.0 L1047.5,291.7 L1051.7,306.7 L1056.7,318.3 L1061.7,317.5 L1066.7,323.3 L1071.7,326.7 L1075.0,327.5 L1078.3,336.7 L1082.0,340.0 L1084.7,348.7 L1088.7,342.7 L1091.3,341.3 L1094.0,342.0 L1097.3,348.7 L1101.3,356.7 L1104.0,366.0 L1106.7,371.3 L1108.7,370.0 L1112.0,364.7 L1115.3,367.3 L1119.3,375.3 L1123.3,380.0 L1127.3,372.0 L1130.0,372.7 L1133.3,377.3 L1136.7,364.7 L1139.3,360.0 L1142.7,366.0 L1146.0,372.7 L1149.3,376.0 L1153.3,372.7 L1157.3,366.7 L1160.7,368.0 L1164.7,364.0 L1168.9,360.7" fill="none" stroke="#006400" stroke-width="1.0" stroke-opacity="0.55" stroke-linejoin="round"/>
<path d="M59.0,351.0 L63.0,358.3 L65.7,366.3 L68.3,377.0 L71.0,383.7 L73.7,379.7 L77.0,377.7 L79.7,383.7 L83.0,378.3 L87.0,371.7 L91.0,370.3 L95.0,377.0 L97.7,378.3 L101.0,371.7 L104.3,378.3 L107.7,379.7 L111.0,371.7 L114.3,370.3 L117.7,367.7 L121.7,365.0 L125.7,359.7 L129.7,363.7 L133.7,370.3 L137.7,375.7 L141.7,370.3 L144.3,367.7 L148.3,373.0 L152.3,378.3 L156.3,382.3 L159.7,378.3 L163.0,385.0 L165.7,390.3 L168.3,369.0 L171.7,364.3 L175.7,373.0 L179.7,370.3 L183.0,363.7 L187.0,358.3 L191.0,355.7 L195.0,348.3 L197.7,347.7 L201.7,351.7 L205.7,355.7 L209.7,361.0 L215.0,371.7 L216.3,368.3 L219.7,360.3 L223.7,357.7 L227.7,359.0 L229.7,367.0 L233.0,370.3 L237.7,369.7 L241.7,363.0 L246.3,359.0 L250.3,355.0 L253.7,349.7 L257.0,357.7 L261.0,361.0 L265.0,360.3 L269.0,356.3 L273.0,357.7 L277.0,361.7 L281.0,348.3 L284.3,343.7 L288.3,343.0 L293.0,338.3 L297.0,332.3 L300.3,331.0 L303.7,336.3 L307.0,337.7 L310.3,353.7 L314.3,354.3 L317.7,353.7 L321.0,359.0 L325.0,351.0 L329.0,336.3 L333.0,327.7 L337.0,323.7 L342.3,329.7 L346.3,326.3 L351.7,320.3 L355.0,316.0 L359.0,316.7 L363.0,314.0 L367.0,303.3 L371.0,299.3 L375.0,303.3 L379.0,304.0 L384.3,303.3 L388.3,301.3 L392.3,302.0 L396.3,296.7 L400.3,287.3 L404.3,279.3 L408.3,263.3 L411.0,256.0 L414.3,253.3 L419.0,252.0 L425.3,257.3 L430.7,256.0 L436.0,250.7 L441.3,245.3 L445.3,240.0 L449.3,234.7 L454.7,233.3 L460.0,234.7 L465.3,232.7 L469.3,230.7 L473.3,218.7 L477.3,211.3 L481.3,208.7 L486.7,208.7 L492.0,207.3 L496.0,206.7 L501.3,205.3 L506.7,202.7 L512.0,200.0 L517.3,197.3 L522.7,194.7 L528.0,193.3 L533.3,189.3 L538.7,188.0 L544.0,187.3 L549.3,186.0 L554.7,184.0 L558.7,185.3 L564.0,183.3 L569.3,180.7 L576.7,183.0 L583.3,181.7 L590.0,178.3 L595.3,177.7 L600.7,176.3 L606.0,173.7 L611.3,170.3 L616.7,169.7 L623.3,170.3 L628.7,166.3 L634.0,163.0 L639.3,166.3 L644.7,166.3 L650.0,162.3 L655.3,160.3 L660.7,161.0 L666.0,157.0 L671.3,161.0 L676.7,159.7 L682.0,159.0 L687.3,158.3 L692.7,155.7 L698.0,156.3 L703.3,156.3 L708.7,154.3 L714.0,153.0 L716.7,157.0 L722.0,157.7 L726.0,155.7 L730.0,156.3 L736.0,157.0 L741.3,157.7 L746.7,155.0 L752.0,156.3 L757.3,157.0 L762.7,155.7 L768.0,155.0 L773.3,154.3 L778.7,155.0 L782.7,157.0 L786.7,157.0 L790.7,155.0 L794.7,159.7 L800.0,159.7 L804.0,162.3 L809.3,161.7 L813.3,157.0 L818.7,160.3 L824.0,161.0 L829.3,163.0 L834.7,163.7 L840.0,163.0 L845.3,165.0 L850.7,166.3 L856.0,170.3 L861.3,171.0 L865.0,170.8 L870.0,175.0 L875.0,180.8 L880.0,185.0 L885.0,188.3 L890.0,190.8 L895.0,190.0 L900.0,190.0 L905.0,194.2 L910.0,198.3 L915.0,200.8 L920.0,205.0 L926.7,205.0 L933.3,203.3 L940.0,208.3 L946.7,213.3 L953.3,216.7 L960.0,221.7 L966.7,225.8 L971.7,224.2 L976.7,222.5 L981.7,225.8 L986.7,228.3 L991.7,235.0 L996.7,238.3 L1001.7,238.3 L1005.0,246.7 L1008.3,253.3 L1010.0,256.7 L1014.2,261.7 L1017.5,260.0 L1021.7,264.2 L1026.7,265.8 L1031.7,269.2 L1036.7,270.8 L1041.7,270.0 L1047.5,264.2 L1051.7,270.8 L1055.8,275.8 L1060.0,275.8 L1063.3,281.7 L1066.7,283.3 L1071.7,290.8 L1075.0,292.5 L1080.0,302.5 L1085.0,310.0 L1089.2,316.7 L1092.5,313.3 L1096.7,304.2 L1100.8,301.7 L1103.3,299.2 L1106.7,308.3 L1110.0,315.0 L1115.0,318.3 L1118.0,327.3 L1120.7,336.7 L1124.0,346.7 L1127.3,338.0 L1130.0,337.3 L1134.0,342.7 L1138.0,345.3 L1142.0,348.7 L1145.3,345.3 L1148.7,351.3 L1152.0,360.0 L1155.3,362.0 L1159.3,361.3 L1162.7,358.7 L1166.0,350.0 L1168.9,355.3" fill="none" stroke="#ffc800" stroke-width="1.0" stroke-opacity="0.55" stroke-linejoin="round"/>
<path d="M59.0,338.3 L61.7,335.7 L68.3,335.7 L71.0,335.0 L74.3,331.0 L77.0,334.6 L83.4,326.6 L87.0,334.3 L91.0,343.7 L95.0,351.0 L98.3,351.4 L101.7,346.3 L105.0,339.7 L108.3,350.3 L112.3,359.0 L116.3,365.0 L120.3,369.0 L124.3,376.3 L128.3,382.3 L131.7,381.0 L135.0,375.7 L137.7,361.0 L141.7,350.3 L147.7,334.6 L153.7,335.0 L159.7,333.7 L163.0,347.0 L165.7,344.3 L169.7,338.3 L172.3,337.3 L175.7,339.7 L179.0,345.0 L183.0,353.7 L186.3,361.0 L190.3,366.3 L193.7,362.3 L197.7,356.3 L200.3,346.3 L202.3,338.3 L205.7,338.3 L209.7,347.7 L215.0,357.0 L217.7,352.3 L220.3,335.0 L225.0,333.0 L229.7,335.0 L235.7,329.7 L240.3,327.7 L245.0,327.3 L248.3,329.7 L251.0,328.1 L255.0,337.7 L258.3,345.0 L261.7,346.3 L264.3,345.0 L267.7,349.7 L271.7,348.3 L275.7,339.0 L278.3,345.7 L281.7,353.7 L286.3,350.3 L291.7,344.3 L297.0,336.3 L299.7,339.0 L302.3,331.0 L306.3,319.0 L311.0,315.0 L315.7,323.0 L319.7,329.7 L323.7,335.0 L327.7,322.3 L331.0,319.7 L335.0,322.3 L338.3,321.7 L341.0,324.3 L346.3,320.3 L351.7,317.0 L355.0,312.7 L359.0,307.3 L363.0,304.7 L368.3,300.7 L372.3,288.7 L376.3,282.0 L380.3,281.3 L383.7,288.0 L386.3,289.7 L389.7,286.0 L395.0,276.7 L400.3,267.3 L405.7,259.3 L409.7,254.0 L414.3,250.7 L420.0,244.0 L425.3,249.3 L430.7,252.7 L434.7,252.7 L440.0,249.3 L445.3,242.7 L449.3,232.0 L452.0,222.7 L454.7,219.3 L460.0,220.7 L465.3,218.7 L469.3,216.0 L474.7,214.7 L478.7,211.3 L484.0,208.0 L489.3,206.7 L493.3,201.3 L497.3,200.0 L502.7,202.7 L508.0,200.0 L513.3,194.7 L518.7,194.7 L524.0,192.0 L529.3,191.3 L534.7,190.0 L540.0,188.0 L545.3,186.7 L550.7,184.0 L556.0,181.3 L561.3,181.3 L570.0,176.3 L575.3,172.3 L580.7,169.0 L586.0,170.3 L591.3,173.0 L596.7,169.0 L602.0,163.7 L607.3,166.3 L611.3,160.3 L616.7,161.0 L623.3,160.3 L627.3,155.0 L632.7,159.7 L638.0,161.7 L643.3,156.3 L647.3,151.7 L651.3,153.7 L656.7,150.3 L662.0,155.0 L666.0,157.0 L671.3,149.7 L675.3,145.7 L679.3,145.7 L684.7,153.0 L690.0,144.3 L695.3,149.7 L700.7,155.7 L704.7,147.0 L710.0,151.0 L715.3,153.7 L719.3,148.3 L724.7,147.0 L730.0,153.0 L734.7,151.0 L738.7,147.0 L744.0,149.7 L749.3,151.0 L754.7,151.7 L760.0,155.7 L765.3,152.3 L770.7,153.7 L774.7,153.0 L778.7,149.0 L782.7,150.3 L786.7,155.0 L790.7,159.7 L794.7,160.3 L798.7,157.7 L802.7,157.0 L808.0,159.0 L813.3,157.7 L818.7,159.7 L824.0,157.7 L829.3,158.3 L833.3,156.3 L837.3,160.3 L842.7,163.7 L848.0,167.7 L853.3,170.3 L858.7,173.7 L860.0,174.2 L866.7,175.8 L873.3,178.3 L880.0,174.7 L886.7,176.7 L891.7,171.7 L895.0,171.3 L900.0,175.8 L906.7,179.2 L913.3,182.5 L918.3,187.5 L923.3,190.8 L931.7,191.7 L938.3,195.8 L945.0,201.7 L951.7,200.8 L958.3,204.2 L965.0,205.8 L970.0,205.0 L973.3,208.3 L978.3,217.5 L983.3,216.7 L986.7,214.2 L991.7,218.3 L998.3,225.8 L1003.3,223.3 L1007.5,222.5 L1013.3,225.8 L1017.5,226.7 L1021.7,233.3 L1025.0,240.0 L1029.2,242.5 L1033.3,240.0 L1038.3,243.3 L1043.3,250.0 L1048.3,255.0 L1053.3,261.7 L1056.7,267.5 L1061.7,264.2 L1065.8,265.0 L1069.2,272.5 L1075.0,265.8 L1080.0,274.2 L1086.7,284.2 L1093.3,287.5 L1099.2,290.0 L1103.3,297.5 L1108.3,303.3 L1113.3,306.7 L1118.3,311.7 L1122.5,310.0 L1125.0,313.3 L1128.3,321.7 L1132.5,328.3 L1136.7,335.0 L1140.0,332.5 L1145.0,334.2 L1150.0,340.0 L1154.0,347.3 L1157.3,356.7 L1160.7,354.7 L1164.7,350.7 L1168.9,346.7" fill="none" stroke="#ff0000" stroke-width="1.0" stroke-opacity="0.55" stroke-linejoin="round"/>
<path d="M59.0,349.7 L63.0,353.0 L68.3,355.0 L73.7,353.0 L79.0,356.3 L83.0,361.0 L88.3,361.7 L92.3,365.0 L96.3,369.7 L101.0,368.3 L105.7,370.3 L109.7,371.7 L113.7,370.3 L117.7,372.3 L121.7,375.0 L127.0,377.7 L131.7,381.0 L136.3,382.3 L140.3,375.7 L144.3,370.3 L148.3,371.0 L153.7,373.0 L159.0,371.7 L163.0,373.0 L167.0,370.3 L169.7,358.3 L172.3,356.3 L175.7,361.0 L181.0,361.0 L187.0,357.0 L192.3,355.7 L197.7,351.7 L203.0,351.0 L208.3,356.3 L212.3,361.7 L215.0,370.3 L219.7,364.3 L223.7,357.7 L227.7,357.0 L231.7,361.7 L236.3,365.7 L241.0,355.0 L245.7,344.3 L250.3,343.7 L255.0,345.0 L258.3,353.7 L262.3,357.7 L267.7,355.0 L273.0,355.0 L278.3,359.0 L283.7,356.3 L290.3,357.7 L297.0,345.7 L301.0,347.0 L306.3,339.0 L311.7,339.0 L317.0,345.7 L321.0,348.3 L325.0,345.0 L329.0,335.0 L334.3,328.3 L339.7,324.3 L345.0,320.3 L351.7,316.3 L355.0,318.0 L360.3,314.0 L365.7,306.0 L371.0,302.0 L376.3,300.0 L381.7,298.0 L387.0,297.3 L392.3,294.0 L397.7,284.7 L401.7,284.7 L405.7,274.0 L409.7,271.3 L413.7,263.3 L417.7,256.7 L420.0,256.0 L425.3,259.3 L434.7,254.7 L440.0,250.7 L445.3,244.0 L450.7,232.0 L456.0,227.3 L461.3,226.0 L466.7,224.7 L472.0,220.0 L477.3,213.3 L482.7,210.7 L488.0,209.3 L493.3,208.0 L498.7,204.7 L504.0,202.7 L509.3,200.0 L514.7,196.7 L520.0,195.3 L525.3,194.0 L530.7,192.7 L536.0,191.3 L541.3,189.3 L546.7,187.3 L552.0,185.3 L557.3,183.3 L562.7,182.0 L566.7,180.7 L570.0,178.3 L576.7,179.0 L583.3,178.3 L590.0,177.0 L596.7,176.3 L603.3,173.7 L608.7,170.3 L614.0,167.0 L620.7,165.7 L627.3,163.7 L634.0,163.7 L639.3,165.0 L644.7,162.3 L650.0,159.7 L655.3,158.3 L662.0,159.7 L668.7,158.3 L675.3,156.3 L682.0,159.0 L688.7,157.7 L695.3,156.3 L702.0,155.7 L707.3,157.0 L712.7,157.7 L718.0,159.0 L723.3,157.0 L730.0,157.0 L733.3,157.7 L740.0,159.0 L746.7,157.0 L753.3,157.0 L760.0,157.0 L766.7,156.3 L773.3,157.7 L780.0,159.7 L786.7,159.7 L793.3,159.7 L798.7,161.0 L804.0,163.7 L810.7,163.0 L817.3,165.0 L824.0,167.0 L830.7,167.7 L837.3,169.0 L842.7,168.3 L848.0,170.3 L853.3,176.3 L858.7,179.0 L860.0,179.2 L866.7,180.0 L873.3,181.7 L880.0,185.0 L886.7,187.5 L893.3,187.5 L900.0,190.8 L906.7,195.0 L913.3,199.2 L920.0,203.3 L926.7,205.0 L933.3,203.3 L940.0,207.5 L946.7,215.0 L953.3,218.3 L960.0,223.3 L966.7,225.0 L973.3,224.2 L980.0,230.0 L985.0,229.2 L990.0,228.3 L995.0,236.7 L1001.7,238.3 L1008.3,241.7 L1015.0,245.0 L1020.0,255.0 L1023.3,259.2 L1029.2,258.3 L1034.2,261.7 L1038.3,268.3 L1043.3,270.0 L1048.3,270.0 L1053.3,280.8 L1057.5,287.5 L1061.7,286.7 L1066.7,291.7 L1071.7,295.0 L1076.7,297.5 L1081.7,307.5 L1086.7,315.0 L1091.7,315.8 L1096.7,313.3 L1101.7,316.7 L1103.3,320.0 L1107.3,326.7 L1111.3,330.0 L1115.3,332.0 L1119.3,339.3 L1123.3,344.7 L1127.3,343.3 L1131.3,346.7 L1135.3,348.7 L1139.3,346.0 L1143.3,348.0 L1147.3,352.7 L1151.3,359.3 L1155.3,361.3 L1159.3,361.3 L1163.3,358.0 L1166.7,352.7 L1168.9,353.3" fill="none" stroke="#ff0000" stroke-width="1.7" stroke-opacity="0.68" stroke-dasharray="6,6" stroke-linecap="round" stroke-linejoin="round"/>
<path d="M59.0,391.0 L63.0,385.0 L68.3,379.7 L72.3,375.7 L77.0,377.0 L81.7,379.7 L85.7,383.0 L91.0,383.7 L95.0,374.3 L99.0,369.0 L103.0,371.0 L107.0,371.7 L111.0,372.3 L115.0,369.0 L119.0,374.3 L124.3,371.7 L129.7,362.3 L133.7,355.7 L137.7,355.7 L141.7,356.3 L145.7,366.3 L148.3,378.3 L151.7,386.3 L156.3,394.3 L161.7,396.3 L167.0,402.3 L171.0,405.0 L183.0,402.3 L187.0,401.7 L192.3,398.3 L197.7,394.3 L203.0,391.7 L208.3,390.3 L215.0,391.7 L221.0,393.7 L226.3,381.7 L231.7,381.4 L237.0,382.3 L243.7,386.3 L250.3,388.3 L254.3,391.0 L258.3,383.0 L263.7,387.7 L269.0,385.7 L274.3,383.0 L279.7,377.7 L285.0,375.0 L290.3,371.0 L295.7,364.3 L301.0,359.0 L306.3,359.0 L311.7,361.7 L317.0,364.3 L322.3,365.0 L325.7,353.7 L330.3,351.0 L335.0,353.0 L341.0,353.7 L345.0,343.7 L349.0,336.3 L353.0,332.3 L357.0,329.7 L365.0,328.3 L376.3,328.7 L380.3,322.0 L383.0,315.3 L387.0,308.7 L392.3,304.7 L397.7,299.3 L401.7,291.3 L405.7,288.7 L409.7,287.3 L413.7,283.3 L417.7,276.7 L421.7,270.0 L425.7,264.7 L429.7,260.7 L433.7,259.3 L437.7,255.3 L441.7,252.0 L444.0,252.0 L449.3,249.3 L454.7,244.0 L460.0,241.3 L465.3,241.3 L470.7,236.0 L476.0,230.7 L481.3,226.7 L486.7,226.7 L490.7,222.7 L494.7,216.0 L500.0,212.0 L505.3,210.0 L510.7,205.3 L516.0,202.7 L521.3,200.0 L526.7,197.3 L532.0,195.3 L537.3,194.0 L542.7,192.7 L548.0,190.7 L553.3,189.3 L558.7,188.7 L564.0,186.7 L569.3,185.3 L576.7,187.0 L583.3,185.7 L590.0,185.7 L596.7,185.0 L603.3,182.3 L608.7,181.0 L614.0,179.0 L620.7,178.3 L627.3,176.3 L634.0,175.0 L639.3,174.3 L644.7,173.7 L651.3,173.0 L656.7,172.3 L662.0,173.7 L668.7,171.7 L675.3,171.7 L680.7,169.7 L686.0,169.7 L691.3,169.7 L696.7,170.3 L702.0,169.7 L706.0,173.0 L710.0,177.7 L715.3,176.3 L720.7,177.7 L726.0,178.3 L730.0,175.7 L733.3,177.0 L740.0,177.0 L746.7,177.0 L753.3,171.7 L760.0,171.0 L766.7,171.0 L773.3,171.7 L780.0,173.0 L786.7,175.0 L792.0,175.0 L797.3,177.0 L801.3,181.0 L806.7,182.3 L813.3,185.0 L818.7,187.0 L824.0,185.0 L829.3,183.7 L834.7,185.0 L840.0,189.0 L845.3,190.3 L849.3,193.0 L853.3,199.7 L860.0,203.3 L866.7,204.2 L873.3,205.0 L880.0,208.3 L886.7,211.7 L893.3,214.2 L900.0,215.0 L905.0,215.8 L910.0,223.3 L916.7,225.8 L923.3,236.7 L930.0,241.7 L936.7,243.3 L943.3,246.7 L950.0,246.7 L955.0,253.3 L960.0,257.5 L970.0,261.7 L975.0,270.0 L980.0,276.7 L985.0,273.3 L991.7,270.0 L998.3,273.3 L1003.3,280.0 L1008.3,288.3 L1013.3,292.5 L1018.3,296.7 L1023.3,306.7 L1028.3,307.5 L1033.3,309.2 L1038.3,315.0 L1043.3,321.7 L1048.3,326.7 L1053.3,325.0 L1058.3,330.0 L1065.0,330.8 L1068.7,336.7 L1072.0,344.7 L1075.3,349.3 L1079.3,351.3 L1083.3,357.3 L1087.3,360.7 L1091.3,363.3 L1094.7,368.7 L1098.7,372.0 L1102.7,375.3 L1106.0,384.7 L1110.0,392.5 L1115.0,395.8 L1120.8,398.3 L1126.7,390.8 L1131.7,388.3 L1136.7,387.5 L1142.5,381.7 L1147.5,390.8 L1151.7,385.0 L1155.8,385.8 L1160.0,389.2 L1164.2,386.7 L1169.0,397.5" fill="none" stroke="#0000ff" stroke-width="1.7" stroke-opacity="0.68" stroke-dasharray="6,6" stroke-linecap="round" stroke-linejoin="round"/>
<path d="M59.0,341.6 L62.1,342.4 L65.1,344.0 L68.2,351.0 L71.2,354.0 L74.3,372.0 L77.3,388.0 L80.4,386.0 L83.4,391.6 L86.5,382.0 L89.5,366.0 L92.6,336.0 L95.6,292.0 L98.7,306.0 L101.7,341.0 L104.8,332.0 L107.8,321.0 L110.9,309.0 L113.9,277.6 L117.0,301.0 L120.0,367.6 L123.1,378.0 L126.1,387.0 L129.2,308.0 L132.2,360.0 L135.3,396.0 L138.3,401.6 L141.4,392.4 L144.4,408.0 L147.5,418.4 L150.5,413.0 L153.6,386.0 L156.6,336.0 L159.7,268.6 L162.7,252.0 L165.8,330.0 L168.8,414.0 L171.9,410.4 L174.9,418.0 L178.0,380.0 L181.0,292.0 L184.1,275.0 L187.1,263.6 L190.2,266.6 L193.2,335.0 L196.3,352.0 L199.3,352.0 L202.4,364.0 L205.4,385.6 L208.5,378.0 L211.5,370.0 L214.6,367.0 L217.6,358.0 L220.7,357.0 L223.7,353.0 L226.8,349.0 L229.8,352.0 L232.9,359.0 L235.9,372.0 L239.0,371.0 L242.0,354.0 L245.1,340.0 L248.1,333.0 L251.2,354.0 L254.3,368.0 L257.3,369.0 L260.4,380.0 L263.4,372.0 L266.5,344.4 L269.5,360.0 L272.6,375.0 L275.6,379.6 L278.7,379.0 L281.7,368.0 L284.8,355.6 L287.8,367.0 L290.9,367.6 L293.9,378.0 L297.0,378.4 L300.0,366.6 L303.1,369.6 L306.1,370.0 L309.2,358.0 L312.2,355.0 L315.3,365.6 L318.3,361.0 L321.4,352.0 L324.4,320.0 L327.5,275.0 L330.5,227.0 L333.6,278.0 L336.6,304.0 L339.7,309.0 L342.7,312.4 L345.8,312.4 L348.8,322.0 L351.9,331.0 L354.9,336.0 L358.0,341.0 L361.0,341.0 L364.1,341.0 L367.1,314.0 L370.2,294.0 L373.2,279.0 L376.3,281.6 L379.3,282.0 L382.4,287.6 L385.4,281.0 L388.5,270.0 L391.5,267.0 L394.6,261.0 L397.6,257.4 L400.7,264.0 L403.7,283.0 L406.8,275.0 L409.8,271.0 L412.9,258.0 L415.9,253.6 L419.0,262.0 L422.0,272.0 L425.1,279.4 L428.1,271.0 L431.2,262.0 L434.2,255.0 L437.3,250.0 L440.4,250.0 L443.4,248.6 L446.5,240.0 L449.5,232.0 L452.6,229.0 L455.6,237.0 L458.7,231.0 L461.7,225.6 L464.8,225.6 L467.8,221.0 L470.9,219.6 L473.9,222.0 L477.0,232.4 L480.0,228.0 L483.1,225.0 L486.1,223.4 L489.2,220.0 L492.2,215.0 L495.3,209.0 L498.3,207.0 L501.4,196.4 L504.4,196.4 L507.5,209.0 L510.5,221.0 L513.6,221.0 L516.6,213.0 L519.7,204.2 L522.7,201.7 L525.8,202.2 L528.8,197.8 L531.9,201.3 L534.9,200.8 L538.0,198.7 L541.0,196.3 L544.1,190.0 L547.1,178.3 L550.2,175.3 L553.2,170.8 L556.3,173.3 L559.3,175.0 L562.4,163.8 L565.4,169.7 L568.5,170.3 L571.5,168.8 L574.6,172.5 L577.6,175.3 L580.7,164.2 L583.7,168.3 L586.8,158.0 L589.8,165.0 L592.9,171.7 L595.9,177.5 L599.0,170.8 L602.0,164.2 L605.1,160.8 L608.1,155.8 L611.2,155.3 L614.2,154.2 L617.3,143.8 L620.3,145.8 L623.4,147.0 L626.4,141.7 L629.5,158.3 L632.6,172.5 L635.6,174.2 L638.7,175.0 L641.7,172.5 L644.8,163.3 L647.8,153.3 L650.9,148.0 L653.9,154.2 L657.0,154.7 L660.0,155.8 L663.1,154.7 L666.1,150.8 L669.2,148.8 L672.2,148.8 L675.3,153.0 L678.3,152.5 L681.4,148.8 L684.4,150.0 L687.5,144.2 L690.5,139.7 L693.6,137.0 L696.6,145.8 L699.7,156.7 L702.7,140.8 L705.8,125.0 L708.8,122.5 L711.9,115.0 L714.9,125.0 L718.0,147.5 L721.0,140.8 L724.1,142.5 L727.1,142.0 L730.2,153.3 L733.2,164.2 L736.3,153.3 L739.3,144.2 L742.4,156.7 L745.4,156.7 L748.5,145.8 L751.5,138.0 L754.6,142.5 L757.6,151.7 L760.7,164.7 L763.7,150.0 L766.8,143.3 L769.8,169.2 L772.9,166.7 L775.9,168.3 L779.0,165.0 L782.0,163.3 L785.1,177.5 L788.1,174.2 L791.2,175.8 L794.2,175.0 L797.3,157.5 L800.3,145.0 L803.4,153.0 L806.4,159.7 L809.5,148.8 L812.5,170.8 L815.6,152.5 L818.6,152.5 L821.7,162.5 L824.8,170.8 L827.8,177.0 L830.9,173.0 L833.9,172.5 L837.0,174.7 L840.0,168.3 L843.1,159.2 L846.1,157.2 L849.2,164.2 L852.2,170.3 L855.3,170.8 L858.3,173.7 L861.4,183.3 L864.4,184.2 L867.5,178.3 L870.5,185.5 L873.6,185.8 L876.6,183.3 L879.7,191.3 L882.7,182.5 L885.8,184.2 L888.8,186.7 L891.9,188.3 L894.9,193.3 L898.0,200.8 L901.0,208.3 L904.1,192.5 L907.1,178.0 L910.2,179.2 L913.2,173.3 L916.3,183.3 L919.3,200.8 L922.4,207.5 L925.4,194.2 L928.5,197.0 L931.5,201.3 L934.6,195.8 L937.6,207.0 L940.7,201.7 L943.7,212.5 L946.8,220.8 L949.8,207.5 L952.9,216.7" fill="none" stroke="#000" stroke-width="2.35" stroke-linejoin="round" stroke-linecap="round"/>
<path d="M59,526.2 L59,59 L1169.5,59 L1169.5,526.2" fill="none" stroke="#000" stroke-width="0.85"/>
<line x1="58.5" y1="526.3" x2="1170" y2="526.3" stroke="#000" stroke-width="1.4"/>
<line x1="51.5" y1="525.49" x2="59" y2="525.49" stroke="#000" stroke-width="0.85"/>
<text class="sans" font-size="10.2" text-anchor="middle" transform="translate(41.7,525.5) rotate(-90) scale(0.82,1)">-40</text>
<line x1="51.5" y1="484.68" x2="59" y2="484.68" stroke="#000" stroke-width="0.85"/>
<text class="sans" font-size="10.2" text-anchor="middle" transform="translate(41.7,484.7) rotate(-90) scale(0.82,1)">-35</text>
<line x1="51.5" y1="443.86" x2="59" y2="443.86" stroke="#000" stroke-width="0.85"/>
<text class="sans" font-size="10.2" text-anchor="middle" transform="translate(41.7,443.9) rotate(-90) scale(0.82,1)">-30</text>
<line x1="51.5" y1="403.04" x2="59" y2="403.04" stroke="#000" stroke-width="0.85"/>
<text class="sans" font-size="10.2" text-anchor="middle" transform="translate(41.7,403.0) rotate(-90) scale(0.82,1)">-25</text>
<line x1="51.5" y1="362.22" x2="59" y2="362.22" stroke="#000" stroke-width="0.85"/>
<text class="sans" font-size="10.2" text-anchor="middle" transform="translate(41.7,362.2) rotate(-90) scale(0.82,1)">-20</text>
<line x1="51.5" y1="321.40" x2="59" y2="321.40" stroke="#000" stroke-width="0.85"/>
<text class="sans" font-size="10.2" text-anchor="middle" transform="translate(41.7,321.4) rotate(-90) scale(0.82,1)">-15</text>
<line x1="51.5" y1="280.59" x2="59" y2="280.59" stroke="#000" stroke-width="0.85"/>
<text class="sans" font-size="10.2" text-anchor="middle" transform="translate(41.7,280.6) rotate(-90) scale(0.82,1)">-10</text>
<line x1="51.5" y1="239.77" x2="59" y2="239.77" stroke="#000" stroke-width="0.85"/>
<text class="sans" font-size="10.2" text-anchor="middle" transform="translate(41.7,239.8) rotate(-90) scale(0.82,1)">-5</text>
<line x1="51.5" y1="198.95" x2="59" y2="198.95" stroke="#000" stroke-width="0.85"/>
<text class="sans" font-size="10.2" text-anchor="middle" transform="translate(41.7,198.9) rotate(-90) scale(0.82,1)">0</text>
<line x1="51.5" y1="158.13" x2="59" y2="158.13" stroke="#000" stroke-width="0.85"/>
<text class="sans" font-size="10.2" text-anchor="middle" transform="translate(41.7,158.1) rotate(-90) scale(0.82,1)">5</text>
<line x1="51.5" y1="117.31" x2="59" y2="117.31" stroke="#000" stroke-width="0.85"/>
<text class="sans" font-size="10.2" text-anchor="middle" transform="translate(41.7,117.3) rotate(-90) scale(0.82,1)">10</text>
<line x1="51.5" y1="76.50" x2="59" y2="76.50" stroke="#000" stroke-width="0.85"/>
<text class="sans" font-size="10.2" text-anchor="middle" transform="translate(41.7,76.5) rotate(-90) scale(0.82,1)">15</text>
<line x1="59.00" y1="526.5" x2="59.00" y2="533.7" stroke="#000" stroke-width="0.85"/>
<line x1="62.05" y1="526.5" x2="62.05" y2="533.7" stroke="#000" stroke-width="0.85"/>
<line x1="65.10" y1="526.5" x2="65.10" y2="533.7" stroke="#000" stroke-width="0.85"/>
<line x1="68.15" y1="526.5" x2="68.15" y2="533.7" stroke="#000" stroke-width="0.85"/>
<line x1="71.21" y1="526.5" x2="71.21" y2="533.7" stroke="#000" stroke-width="0.85"/>
<line x1="74.26" y1="526.5" x2="74.26" y2="533.7" stroke="#000" stroke-width="0.85"/>
<line x1="77.31" y1="526.5" x2="77.31" y2="533.7" stroke="#000" stroke-width="0.85"/>
<line x1="80.36" y1="526.5" x2="80.36" y2="533.7" stroke="#000" stroke-width="0.85"/>
<line x1="83.41" y1="526.5" x2="83.41" y2="533.7" stroke="#000" stroke-width="0.85"/>
<line x1="86.46" y1="526.5" x2="86.46" y2="533.7" stroke="#000" stroke-width="0.85"/>
<line x1="89.52" y1="526.5" x2="89.52" y2="533.7" stroke="#000" stroke-width="0.85"/>
<line x1="92.57" y1="526.5" x2="92.57" y2="533.7" stroke="#000" stroke-width="0.85"/>
<line x1="95.62" y1="526.5" x2="95.62" y2="533.7" stroke="#000" stroke-width="0.85"/>
<line x1="98.67" y1="526.5" x2="98.67" y2="533.7" stroke="#000" stroke-width="0.85"/>
<line x1="101.72" y1="526.5" x2="101.72" y2="533.7" stroke="#000" stroke-width="0.85"/>
<line x1="104.77" y1="526.5" x2="104.77" y2="533.7" stroke="#000" stroke-width="0.85"/>
<line x1="107.82" y1="526.5" x2="107.82" y2="533.7" stroke="#000" stroke-width="0.85"/>
<line x1="110.88" y1="526.5" x2="110.88" y2="533.7" stroke="#000" stroke-width="0.85"/>
<line x1="113.93" y1="526.5" x2="113.93" y2="533.7" stroke="#000" stroke-width="0.85"/>
<line x1="116.98" y1="526.5" x2="116.98" y2="533.7" stroke="#000" stroke-width="0.85"/>
<line x1="120.03" y1="526.5" x2="120.03" y2="533.7" stroke="#000" stroke-width="0.85"/>
<line x1="123.08" y1="526.5" x2="123.08" y2="533.7" stroke="#000" stroke-width="0.85"/>
<line x1="126.13" y1="526.5" x2="126.13" y2="533.7" stroke="#000" stroke-width="0.85"/>
<line x1="129.18" y1="526.5" x2="129.18" y2="533.7" stroke="#000" stroke-width="0.85"/>
<line x1="132.24" y1="526.5" x2="132.24" y2="533.7" stroke="#000" stroke-width="0.85"/>
<line x1="135.29" y1="526.5" x2="135.29" y2="533.7" stroke="#000" stroke-width="0.85"/>
<line x1="138.34" y1="526.5" x2="138.34" y2="533.7" stroke="#000" stroke-width="0.85"/>
<line x1="141.39" y1="526.5" x2="141.39" y2="533.7" stroke="#000" stroke-width="0.85"/>
<line x1="144.44" y1="526.5" x2="144.44" y2="533.7" stroke="#000" stroke-width="0.85"/>
<line x1="147.49" y1="526.5" x2="147.49" y2="533.7" stroke="#000" stroke-width="0.85"/>
<line x1="150.55" y1="526.5" x2="150.55" y2="533.7" stroke="#000" stroke-width="0.85"/>
<line x1="153.60" y1="526.5" x2="153.60" y2="533.7" stroke="#000" stroke-width="0.85"/>
<line x1="156.65" y1="526.5" x2="156.65" y2="533.7" stroke="#000" stroke-width="0.85"/>
<line x1="159.70" y1="526.5" x2="159.70" y2="533.7" stroke="#000" stroke-width="0.85"/>
<line x1="162.75" y1="526.5" x2="162.75" y2="533.7" stroke="#000" stroke-width="0.85"/>
<line x1="165.80" y1="526.5" x2="165.80" y2="533.7" stroke="#000" stroke-width="0.85"/>
<line x1="168.85" y1="526.5" x2="168.85" y2="533.7" stroke="#000" stroke-width="0.85"/>
<line x1="171.91" y1="526.5" x2="171.91" y2="533.7" stroke="#000" stroke-width="0.85"/>
<line x1="174.96" y1="526.5" x2="174.96" y2="533.7" stroke="#000" stroke-width="0.85"/>
<line x1="178.01" y1="526.5" x2="178.01" y2="533.7" stroke="#000" stroke-width="0.85"/>
<line x1="181.06" y1="526.5" x2="181.06" y2="533.7" stroke="#000" stroke-width="0.85"/>
<line x1="184.11" y1="526.5" x2="184.11" y2="533.7" stroke="#000" stroke-width="0.85"/>
<line x1="187.16" y1="526.5" x2="187.16" y2="533.7" stroke="#000" stroke-width="0.85"/>
<line x1="190.21" y1="526.5" x2="190.21" y2="533.7" stroke="#000" stroke-width="0.85"/>
<line x1="193.27" y1="526.5" x2="193.27" y2="533.7" stroke="#000" stroke-width="0.85"/>
<line x1="196.32" y1="526.5" x2="196.32" y2="533.7" stroke="#000" stroke-width="0.85"/>
<line x1="199.37" y1="526.5" x2="199.37" y2="533.7" stroke="#000" stroke-width="0.85"/>
<line x1="202.42" y1="526.5" x2="202.42" y2="533.7" stroke="#000" stroke-width="0.85"/>
<line x1="205.47" y1="526.5" x2="205.47" y2="533.7" stroke="#000" stroke-width="0.85"/>
<line x1="208.52" y1="526.5" x2="208.52" y2="533.7" stroke="#000" stroke-width="0.85"/>
<line x1="211.58" y1="526.5" x2="211.58" y2="533.7" stroke="#000" stroke-width="0.85"/>
<line x1="214.63" y1="526.5" x2="214.63" y2="533.7" stroke="#000" stroke-width="0.85"/>
<line x1="217.68" y1="526.5" x2="217.68" y2="533.7" stroke="#000" stroke-width="0.85"/>
<line x1="220.73" y1="526.5" x2="220.73" y2="533.7" stroke="#000" stroke-width="0.85"/>
<line x1="223.78" y1="526.5" x2="223.78" y2="533.7" stroke="#000" stroke-width="0.85"/>
<line x1="226.83" y1="526.5" x2="226.83" y2="533.7" stroke="#000" stroke-width="0.85"/>
<line x1="229.88" y1="526.5" x2="229.88" y2="533.7" stroke="#000" stroke-width="0.85"/>
<line x1="232.94" y1="526.5" x2="232.94" y2="533.7" stroke="#000" stroke-width="0.85"/>
<line x1="235.99" y1="526.5" x2="235.99" y2="533.7" stroke="#000" stroke-width="0.85"/>
<line x1="239.04" y1="526.5" x2="239.04" y2="533.7" stroke="#000" stroke-width="0.85"/>
<line x1="242.09" y1="526.5" x2="242.09" y2="533.7" stroke="#000" stroke-width="0.85"/>
<line x1="245.14" y1="526.5" x2="245.14" y2="533.7" stroke="#000" stroke-width="0.85"/>
<line x1="248.19" y1="526.5" x2="248.19" y2="533.7" stroke="#000" stroke-width="0.85"/>
<line x1="251.25" y1="526.5" x2="251.25" y2="533.7" stroke="#000" stroke-width="0.85"/>
<line x1="254.30" y1="526.5" x2="254.30" y2="533.7" stroke="#000" stroke-width="0.85"/>
<line x1="257.35" y1="526.5" x2="257.35" y2="533.7" stroke="#000" stroke-width="0.85"/>
<line x1="260.40" y1="526.5" x2="260.40" y2="533.7" stroke="#000" stroke-width="0.85"/>
<line x1="263.45" y1="526.5" x2="263.45" y2="533.7" stroke="#000" stroke-width="0.85"/>
<line x1="266.50" y1="526.5" x2="266.50" y2="533.7" stroke="#000" stroke-width="0.85"/>
<line x1="269.55" y1="526.5" x2="269.55" y2="533.7" stroke="#000" stroke-width="0.85"/>
<line x1="272.61" y1="526.5" x2="272.61" y2="533.7" stroke="#000" stroke-width="0.85"/>
<line x1="275.66" y1="526.5" x2="275.66" y2="533.7" stroke="#000" stroke-width="0.85"/>
<line x1="278.71" y1="526.5" x2="278.71" y2="533.7" stroke="#000" stroke-width="0.85"/>
<line x1="281.76" y1="526.5" x2="281.76" y2="533.7" stroke="#000" stroke-width="0.85"/>
<line x1="284.81" y1="526.5" x2="284.81" y2="533.7" stroke="#000" stroke-width="0.85"/>
<line x1="287.86" y1="526.5" x2="287.86" y2="533.7" stroke="#000" stroke-width="0.85"/>
<line x1="290.91" y1="526.5" x2="290.91" y2="533.7" stroke="#000" stroke-width="0.85"/>
<line x1="293.97" y1="526.5" x2="293.97" y2="533.7" stroke="#000" stroke-width="0.85"/>
<line x1="297.02" y1="526.5" x2="297.02" y2="533.7" stroke="#000" stroke-width="0.85"/>
<line x1="300.07" y1="526.5" x2="300.07" y2="533.7" stroke="#000" stroke-width="0.85"/>
<line x1="303.12" y1="526.5" x2="303.12" y2="533.7" stroke="#000" stroke-width="0.85"/>
<line x1="306.17" y1="526.5" x2="306.17" y2="533.7" stroke="#000" stroke-width="0.85"/>
<line x1="309.22" y1="526.5" x2="309.22" y2="533.7" stroke="#000" stroke-width="0.85"/>
<line x1="312.28" y1="526.5" x2="312.28" y2="533.7" stroke="#000" stroke-width="0.85"/>
<line x1="315.33" y1="526.5" x2="315.33" y2="533.7" stroke="#000" stroke-width="0.85"/>
<line x1="318.38" y1="526.5" x2="318.38" y2="533.7" stroke="#000" stroke-width="0.85"/>
<line x1="321.43" y1="526.5" x2="321.43" y2="533.7" stroke="#000" stroke-width="0.85"/>
<line x1="324.48" y1="526.5" x2="324.48" y2="533.7" stroke="#000" stroke-width="0.85"/>
<line x1="327.53" y1="526.5" x2="327.53" y2="533.7" stroke="#000" stroke-width="0.85"/>
<line x1="330.58" y1="526.5" x2="330.58" y2="533.7" stroke="#000" stroke-width="0.85"/>
<line x1="333.64" y1="526.5" x2="333.64" y2="533.7" stroke="#000" stroke-width="0.85"/>
<line x1="336.69" y1="526.5" x2="336.69" y2="533.7" stroke="#000" stroke-width="0.85"/>
<line x1="339.74" y1="526.5" x2="339.74" y2="533.7" stroke="#000" stroke-width="0.85"/>
<line x1="342.79" y1="526.5" x2="342.79" y2="533.7" stroke="#000" stroke-width="0.85"/>
<line x1="345.84" y1="526.5" x2="345.84" y2="533.7" stroke="#000" stroke-width="0.85"/>
<line x1="348.89" y1="526.5" x2="348.89" y2="533.7" stroke="#000" stroke-width="0.85"/>
<line x1="351.95" y1="526.5" x2="351.95" y2="533.7" stroke="#000" stroke-width="0.85"/>
<line x1="355.00" y1="526.5" x2="355.00" y2="533.7" stroke="#000" stroke-width="0.85"/>
<line x1="358.05" y1="526.5" x2="358.05" y2="533.7" stroke="#000" stroke-width="0.85"/>
<line x1="361.10" y1="526.5" x2="361.10" y2="533.7" stroke="#000" stroke-width="0.85"/>
<line x1="364.15" y1="526.5" x2="364.15" y2="533.7" stroke="#000" stroke-width="0.85"/>
<line x1="367.20" y1="526.5" x2="367.20" y2="533.7" stroke="#000" stroke-width="0.85"/>
<line x1="370.25" y1="526.5" x2="370.25" y2="533.7" stroke="#000" stroke-width="0.85"/>
<line x1="373.31" y1="526.5" x2="373.31" y2="533.7" stroke="#000" stroke-width="0.85"/>
<line x1="376.36" y1="526.5" x2="376.36" y2="533.7" stroke="#000" stroke-width="0.85"/>
<line x1="379.41" y1="526.5" x2="379.41" y2="533.7" stroke="#000" stroke-width="0.85"/>
<line x1="382.46" y1="526.5" x2="382.46" y2="533.7" stroke="#000" stroke-width="0.85"/>
<line x1="385.51" y1="526.5" x2="385.51" y2="533.7" stroke="#000" stroke-width="0.85"/>
<line x1="388.56" y1="526.5" x2="388.56" y2="533.7" stroke="#000" stroke-width="0.85"/>
<line x1="391.61" y1="526.5" x2="391.61" y2="533.7" stroke="#000" stroke-width="0.85"/>
<line x1="394.67" y1="526.5" x2="394.67" y2="533.7" stroke="#000" stroke-width="0.85"/>
<line x1="397.72" y1="526.5" x2="397.72" y2="533.7" stroke="#000" stroke-width="0.85"/>
<line x1="400.77" y1="526.5" x2="400.77" y2="533.7" stroke="#000" stroke-width="0.85"/>
<line x1="403.82" y1="526.5" x2="403.82" y2="533.7" stroke="#000" stroke-width="0.85"/>
<line x1="406.87" y1="526.5" x2="406.87" y2="533.7" stroke="#000" stroke-width="0.85"/>
<line x1="409.92" y1="526.5" x2="409.92" y2="533.7" stroke="#000" stroke-width="0.85"/>
<line x1="412.98" y1="526.5" x2="412.98" y2="533.7" stroke="#000" stroke-width="0.85"/>
<line x1="416.03" y1="526.5" x2="416.03" y2="533.7" stroke="#000" stroke-width="0.85"/>
<line x1="419.08" y1="526.5" x2="419.08" y2="533.7" stroke="#000" stroke-width="0.85"/>
<line x1="422.13" y1="526.5" x2="422.13" y2="533.7" stroke="#000" stroke-width="0.85"/>
<line x1="425.18" y1="526.5" x2="425.18" y2="533.7" stroke="#000" stroke-width="0.85"/>
<line x1="428.23" y1="526.5" x2="428.23" y2="533.7" stroke="#000" stroke-width="0.85"/>
<line x1="431.28" y1="526.5" x2="431.28" y2="533.7" stroke="#000" stroke-width="0.85"/>
<line x1="434.34" y1="526.5" x2="434.34" y2="533.7" stroke="#000" stroke-width="0.85"/>
<line x1="437.39" y1="526.5" x2="437.39" y2="533.7" stroke="#000" stroke-width="0.85"/>
<line x1="440.44" y1="526.5" x2="440.44" y2="533.7" stroke="#000" stroke-width="0.85"/>
<line x1="443.49" y1="526.5" x2="443.49" y2="533.7" stroke="#000" stroke-width="0.85"/>
<line x1="446.54" y1="526.5" x2="446.54" y2="533.7" stroke="#000" stroke-width="0.85"/>
<line x1="449.59" y1="526.5" x2="449.59" y2="533.7" stroke="#000" stroke-width="0.85"/>
<line x1="452.64" y1="526.5" x2="452.64" y2="533.7" stroke="#000" stroke-width="0.85"/>
<line x1="455.70" y1="526.5" x2="455.70" y2="533.7" stroke="#000" stroke-width="0.85"/>
<line x1="458.75" y1="526.5" x2="458.75" y2="533.7" stroke="#000" stroke-width="0.85"/>
<line x1="461.80" y1="526.5" x2="461.80" y2="533.7" stroke="#000" stroke-width="0.85"/>
<line x1="464.85" y1="526.5" x2="464.85" y2="533.7" stroke="#000" stroke-width="0.85"/>
<line x1="467.90" y1="526.5" x2="467.90" y2="533.7" stroke="#000" stroke-width="0.85"/>
<line x1="470.95" y1="526.5" x2="470.95" y2="533.7" stroke="#000" stroke-width="0.85"/>
<line x1="474.01" y1="526.5" x2="474.01" y2="533.7" stroke="#000" stroke-width="0.85"/>
<line x1="477.06" y1="526.5" x2="477.06" y2="533.7" stroke="#000" stroke-width="0.85"/>
<line x1="480.11" y1="526.5" x2="480.11" y2="533.7" stroke="#000" stroke-width="0.85"/>
<line x1="483.16" y1="526.5" x2="483.16" y2="533.7" stroke="#000" stroke-width="0.85"/>
<line x1="486.21" y1="526.5" x2="486.21" y2="533.7" stroke="#000" stroke-width="0.85"/>
<line x1="489.26" y1="526.5" x2="489.26" y2="533.7" stroke="#000" stroke-width="0.85"/>
<line x1="492.31" y1="526.5" x2="492.31" y2="533.7" stroke="#000" stroke-width="0.85"/>
<line x1="495.37" y1="526.5" x2="495.37" y2="533.7" stroke="#000" stroke-width="0.85"/>
<line x1="498.42" y1="526.5" x2="498.42" y2="533.7" stroke="#000" stroke-width="0.85"/>
<line x1="501.47" y1="526.5" x2="501.47" y2="533.7" stroke="#000" stroke-width="0.85"/>
<line x1="504.52" y1="526.5" x2="504.52" y2="533.7" stroke="#000" stroke-width="0.85"/>
<line x1="507.57" y1="526.5" x2="507.57" y2="533.7" stroke="#000" stroke-width="0.85"/>
<line x1="510.62" y1="526.5" x2="510.62" y2="533.7" stroke="#000" stroke-width="0.85"/>
<line x1="513.68" y1="526.5" x2="513.68" y2="533.7" stroke="#000" stroke-width="0.85"/>
<line x1="516.73" y1="526.5" x2="516.73" y2="533.7" stroke="#000" stroke-width="0.85"/>
<line x1="519.78" y1="526.5" x2="519.78" y2="533.7" stroke="#000" stroke-width="0.85"/>
<line x1="522.83" y1="526.5" x2="522.83" y2="533.7" stroke="#000" stroke-width="0.85"/>
<line x1="525.88" y1="526.5" x2="525.88" y2="533.7" stroke="#000" stroke-width="0.85"/>
<line x1="528.93" y1="526.5" x2="528.93" y2="533.7" stroke="#000" stroke-width="0.85"/>
<line x1="531.98" y1="526.5" x2="531.98" y2="533.7" stroke="#000" stroke-width="0.85"/>
<line x1="535.04" y1="526.5" x2="535.04" y2="533.7" stroke="#000" stroke-width="0.85"/>
<line x1="538.09" y1="526.5" x2="538.09" y2="533.7" stroke="#000" stroke-width="0.85"/>
<line x1="541.14" y1="526.5" x2="541.14" y2="533.7" stroke="#000" stroke-width="0.85"/>
<line x1="544.19" y1="526.5" x2="544.19" y2="533.7" stroke="#000" stroke-width="0.85"/>
<line x1="547.24" y1="526.5" x2="547.24" y2="533.7" stroke="#000" stroke-width="0.85"/>
<line x1="550.29" y1="526.5" x2="550.29" y2="533.7" stroke="#000" stroke-width="0.85"/>
<line x1="553.34" y1="526.5" x2="553.34" y2="533.7" stroke="#000" stroke-width="0.85"/>
<line x1="556.40" y1="526.5" x2="556.40" y2="533.7" stroke="#000" stroke-width="0.85"/>
<line x1="559.45" y1="526.5" x2="559.45" y2="533.7" stroke="#000" stroke-width="0.85"/>
<line x1="562.50" y1="526.5" x2="562.50" y2="533.7" stroke="#000" stroke-width="0.85"/>
<line x1="565.55" y1="526.5" x2="565.55" y2="533.7" stroke="#000" stroke-width="0.85"/>
<line x1="568.60" y1="526.5" x2="568.60" y2="533.7" stroke="#000" stroke-width="0.85"/>
<line x1="571.65" y1="526.5" x2="571.65" y2="533.7" stroke="#000" stroke-width="0.85"/>
<line x1="574.71" y1="526.5" x2="574.71" y2="533.7" stroke="#000" stroke-width="0.85"/>
<line x1="577.76" y1="526.5" x2="577.76" y2="533.7" stroke="#000" stroke-width="0.85"/>
<line x1="580.81" y1="526.5" x2="580.81" y2="533.7" stroke="#000" stroke-width="0.85"/>
<line x1="583.86" y1="526.5" x2="583.86" y2="533.7" stroke="#000" stroke-width="0.85"/>
<line x1="586.91" y1="526.5" x2="586.91" y2="533.7" stroke="#000" stroke-width="0.85"/>
<line x1="589.96" y1="526.5" x2="589.96" y2="533.7" stroke="#000" stroke-width="0.85"/>
<line x1="593.01" y1="526.5" x2="593.01" y2="533.7" stroke="#000" stroke-width="0.85"/>
<line x1="596.07" y1="526.5" x2="596.07" y2="533.7" stroke="#000" stroke-width="0.85"/>
<line x1="599.12" y1="526.5" x2="599.12" y2="533.7" stroke="#000" stroke-width="0.85"/>
<line x1="602.17" y1="526.5" x2="602.17" y2="533.7" stroke="#000" stroke-width="0.85"/>
<line x1="605.22" y1="526.5" x2="605.22" y2="533.7" stroke="#000" stroke-width="0.85"/>
<line x1="608.27" y1="526.5" x2="608.27" y2="533.7" stroke="#000" stroke-width="0.85"/>
<line x1="611.32" y1="526.5" x2="611.32" y2="533.7" stroke="#000" stroke-width="0.85"/>
<line x1="614.38" y1="526.5" x2="614.38" y2="533.7" stroke="#000" stroke-width="0.85"/>
<line x1="617.43" y1="526.5" x2="617.43" y2="533.7" stroke="#000" stroke-width="0.85"/>
<line x1="620.48" y1="526.5" x2="620.48" y2="533.7" stroke="#000" stroke-width="0.85"/>
<line x1="623.53" y1="526.5" x2="623.53" y2="533.7" stroke="#000" stroke-width="0.85"/>
<line x1="626.58" y1="526.5" x2="626.58" y2="533.7" stroke="#000" stroke-width="0.85"/>
<line x1="629.63" y1="526.5" x2="629.63" y2="533.7" stroke="#000" stroke-width="0.85"/>
<line x1="632.68" y1="526.5" x2="632.68" y2="533.7" stroke="#000" stroke-width="0.85"/>
<line x1="635.74" y1="526.5" x2="635.74" y2="533.7" stroke="#000" stroke-width="0.85"/>
<line x1="638.79" y1="526.5" x2="638.79" y2="533.7" stroke="#000" stroke-width="0.85"/>
<line x1="641.84" y1="526.5" x2="641.84" y2="533.7" stroke="#000" stroke-width="0.85"/>
<line x1="644.89" y1="526.5" x2="644.89" y2="533.7" stroke="#000" stroke-width="0.85"/>
<line x1="647.94" y1="526.5" x2="647.94" y2="533.7" stroke="#000" stroke-width="0.85"/>
<line x1="650.99" y1="526.5" x2="650.99" y2="533.7" stroke="#000" stroke-width="0.85"/>
<line x1="654.04" y1="526.5" x2="654.04" y2="533.7" stroke="#000" stroke-width="0.85"/>
<line x1="657.10" y1="526.5" x2="657.10" y2="533.7" stroke="#000" stroke-width="0.85"/>
<line x1="660.15" y1="526.5" x2="660.15" y2="533.7" stroke="#000" stroke-width="0.85"/>
<line x1="663.20" y1="526.5" x2="663.20" y2="533.7" stroke="#000" stroke-width="0.85"/>
<line x1="666.25" y1="526.5" x2="666.25" y2="533.7" stroke="#000" stroke-width="0.85"/>
<line x1="669.30" y1="526.5" x2="669.30" y2="533.7" stroke="#000" stroke-width="0.85"/>
<line x1="672.35" y1="526.5" x2="672.35" y2="533.7" stroke="#000" stroke-width="0.85"/>
<line x1="675.41" y1="526.5" x2="675.41" y2="533.7" stroke="#000" stroke-width="0.85"/>
<line x1="678.46" y1="526.5" x2="678.46" y2="533.7" stroke="#000" stroke-width="0.85"/>
<line x1="681.51" y1="526.5" x2="681.51" y2="533.7" stroke="#000" stroke-width="0.85"/>
<line x1="684.56" y1="526.5" x2="684.56" y2="533.7" stroke="#000" stroke-width="0.85"/>
<line x1="687.61" y1="526.5" x2="687.61" y2="533.7" stroke="#000" stroke-width="0.85"/>
<line x1="690.66" y1="526.5" x2="690.66" y2="533.7" stroke="#000" stroke-width="0.85"/>
<line x1="693.71" y1="526.5" x2="693.71" y2="533.7" stroke="#000" stroke-width="0.85"/>
<line x1="696.77" y1="526.5" x2="696.77" y2="533.7" stroke="#000" stroke-width="0.85"/>
<line x1="699.82" y1="526.5" x2="699.82" y2="533.7" stroke="#000" stroke-width="0.85"/>
<line x1="702.87" y1="526.5" x2="702.87" y2="533.7" stroke="#000" stroke-width="0.85"/>
<line x1="705.92" y1="526.5" x2="705.92" y2="533.7" stroke="#000" stroke-width="0.85"/>
<line x1="708.97" y1="526.5" x2="708.97" y2="533.7" stroke="#000" stroke-width="0.85"/>
<line x1="712.02" y1="526.5" x2="712.02" y2="533.7" stroke="#000" stroke-width="0.85"/>
<line x1="715.07" y1="526.5" x2="715.07" y2="533.7" stroke="#000" stroke-width="0.85"/>
<line x1="718.13" y1="526.5" x2="718.13" y2="533.7" stroke="#000" stroke-width="0.85"/>
<line x1="721.18" y1="526.5" x2="721.18" y2="533.7" stroke="#000" stroke-width="0.85"/>
<line x1="724.23" y1="526.5" x2="724.23" y2="533.7" stroke="#000" stroke-width="0.85"/>
<line x1="727.28" y1="526.5" x2="727.28" y2="533.7" stroke="#000" stroke-width="0.85"/>
<line x1="730.33" y1="526.5" x2="730.33" y2="533.7" stroke="#000" stroke-width="0.85"/>
<line x1="733.38" y1="526.5" x2="733.38" y2="533.7" stroke="#000" stroke-width="0.85"/>
<line x1="736.44" y1="526.5" x2="736.44" y2="533.7" stroke="#000" stroke-width="0.85"/>
<line x1="739.49" y1="526.5" x2="739.49" y2="533.7" stroke="#000" stroke-width="0.85"/>
<line x1="742.54" y1="526.5" x2="742.54" y2="533.7" stroke="#000" stroke-width="0.85"/>
<line x1="745.59" y1="526.5" x2="745.59" y2="533.7" stroke="#000" stroke-width="0.85"/>
<line x1="748.64" y1="526.5" x2="748.64" y2="533.7" stroke="#000" stroke-width="0.85"/>
<line x1="751.69" y1="526.5" x2="751.69" y2="533.7" stroke="#000" stroke-width="0.85"/>
<line x1="754.74" y1="526.5" x2="754.74" y2="533.7" stroke="#000" stroke-width="0.85"/>
<line x1="757.80" y1="526.5" x2="757.80" y2="533.7" stroke="#000" stroke-width="0.85"/>
<line x1="760.85" y1="526.5" x2="760.85" y2="533.7" stroke="#000" stroke-width="0.85"/>
<line x1="763.90" y1="526.5" x2="763.90" y2="533.7" stroke="#000" stroke-width="0.85"/>
<line x1="766.95" y1="526.5" x2="766.95" y2="533.7" stroke="#000" stroke-width="0.85"/>
<line x1="770.00" y1="526.5" x2="770.00" y2="533.7" stroke="#000" stroke-width="0.85"/>
<line x1="773.05" y1="526.5" x2="773.05" y2="533.7" stroke="#000" stroke-width="0.85"/>
<line x1="776.11" y1="526.5" x2="776.11" y2="533.7" stroke="#000" stroke-width="0.85"/>
<line x1="779.16" y1="526.5" x2="779.16" y2="533.7" stroke="#000" stroke-width="0.85"/>
<line x1="782.21" y1="526.5" x2="782.21" y2="533.7" stroke="#000" stroke-width="0.85"/>
<line x1="785.26" y1="526.5" x2="785.26" y2="533.7" stroke="#000" stroke-width="0.85"/>
<line x1="788.31" y1="526.5" x2="788.31" y2="533.7" stroke="#000" stroke-width="0.85"/>
<line x1="791.36" y1="526.5" x2="791.36" y2="533.7" stroke="#000" stroke-width="0.85"/>
<line x1="794.41" y1="526.5" x2="794.41" y2="533.7" stroke="#000" stroke-width="0.85"/>
<line x1="797.47" y1="526.5" x2="797.47" y2="533.7" stroke="#000" stroke-width="0.85"/>
<line x1="800.52" y1="526.5" x2="800.52" y2="533.7" stroke="#000" stroke-width="0.85"/>
<line x1="803.57" y1="526.5" x2="803.57" y2="533.7" stroke="#000" stroke-width="0.85"/>
<line x1="806.62" y1="526.5" x2="806.62" y2="533.7" stroke="#000" stroke-width="0.85"/>
<line x1="809.67" y1="526.5" x2="809.67" y2="533.7" stroke="#000" stroke-width="0.85"/>
<line x1="812.72" y1="526.5" x2="812.72" y2="533.7" stroke="#000" stroke-width="0.85"/>
<line x1="815.77" y1="526.5" x2="815.77" y2="533.7" stroke="#000" stroke-width="0.85"/>
<line x1="818.83" y1="526.5" x2="818.83" y2="533.7" stroke="#000" stroke-width="0.85"/>
<line x1="821.88" y1="526.5" x2="821.88" y2="533.7" stroke="#000" stroke-width="0.85"/>
<line x1="824.93" y1="526.5" x2="824.93" y2="533.7" stroke="#000" stroke-width="0.85"/>
<line x1="827.98" y1="526.5" x2="827.98" y2="533.7" stroke="#000" stroke-width="0.85"/>
<line x1="831.03" y1="526.5" x2="831.03" y2="533.7" stroke="#000" stroke-width="0.85"/>
<line x1="834.08" y1="526.5" x2="834.08" y2="533.7" stroke="#000" stroke-width="0.85"/>
<line x1="837.14" y1="526.5" x2="837.14" y2="533.7" stroke="#000" stroke-width="0.85"/>
<line x1="840.19" y1="526.5" x2="840.19" y2="533.7" stroke="#000" stroke-width="0.85"/>
<line x1="843.24" y1="526.5" x2="843.24" y2="533.7" stroke="#000" stroke-width="0.85"/>
<line x1="846.29" y1="526.5" x2="846.29" y2="533.7" stroke="#000" stroke-width="0.85"/>
<line x1="849.34" y1="526.5" x2="849.34" y2="533.7" stroke="#000" stroke-width="0.85"/>
<line x1="852.39" y1="526.5" x2="852.39" y2="533.7" stroke="#000" stroke-width="0.85"/>
<line x1="855.44" y1="526.5" x2="855.44" y2="533.7" stroke="#000" stroke-width="0.85"/>
<line x1="858.50" y1="526.5" x2="858.50" y2="533.7" stroke="#000" stroke-width="0.85"/>
<line x1="861.55" y1="526.5" x2="861.55" y2="533.7" stroke="#000" stroke-width="0.85"/>
<line x1="864.60" y1="526.5" x2="864.60" y2="533.7" stroke="#000" stroke-width="0.85"/>
<line x1="867.65" y1="526.5" x2="867.65" y2="533.7" stroke="#000" stroke-width="0.85"/>
<line x1="870.70" y1="526.5" x2="870.70" y2="533.7" stroke="#000" stroke-width="0.85"/>
<line x1="873.75" y1="526.5" x2="873.75" y2="533.7" stroke="#000" stroke-width="0.85"/>
<line x1="876.80" y1="526.5" x2="876.80" y2="533.7" stroke="#000" stroke-width="0.85"/>
<line x1="879.86" y1="526.5" x2="879.86" y2="533.7" stroke="#000" stroke-width="0.85"/>
<line x1="882.91" y1="526.5" x2="882.91" y2="533.7" stroke="#000" stroke-width="0.85"/>
<line x1="885.96" y1="526.5" x2="885.96" y2="533.7" stroke="#000" stroke-width="0.85"/>
<line x1="889.01" y1="526.5" x2="889.01" y2="533.7" stroke="#000" stroke-width="0.85"/>
<line x1="892.06" y1="526.5" x2="892.06" y2="533.7" stroke="#000" stroke-width="0.85"/>
<line x1="895.11" y1="526.5" x2="895.11" y2="533.7" stroke="#000" stroke-width="0.85"/>
<line x1="898.17" y1="526.5" x2="898.17" y2="533.7" stroke="#000" stroke-width="0.85"/>
<line x1="901.22" y1="526.5" x2="901.22" y2="533.7" stroke="#000" stroke-width="0.85"/>
<line x1="904.27" y1="526.5" x2="904.27" y2="533.7" stroke="#000" stroke-width="0.85"/>
<line x1="907.32" y1="526.5" x2="907.32" y2="533.7" stroke="#000" stroke-width="0.85"/>
<line x1="910.37" y1="526.5" x2="910.37" y2="533.7" stroke="#000" stroke-width="0.85"/>
<line x1="913.42" y1="526.5" x2="913.42" y2="533.7" stroke="#000" stroke-width="0.85"/>
<line x1="916.47" y1="526.5" x2="916.47" y2="533.7" stroke="#000" stroke-width="0.85"/>
<line x1="919.53" y1="526.5" x2="919.53" y2="533.7" stroke="#000" stroke-width="0.85"/>
<line x1="922.58" y1="526.5" x2="922.58" y2="533.7" stroke="#000" stroke-width="0.85"/>
<line x1="925.63" y1="526.5" x2="925.63" y2="533.7" stroke="#000" stroke-width="0.85"/>
<line x1="928.68" y1="526.5" x2="928.68" y2="533.7" stroke="#000" stroke-width="0.85"/>
<line x1="931.73" y1="526.5" x2="931.73" y2="533.7" stroke="#000" stroke-width="0.85"/>
<line x1="934.78" y1="526.5" x2="934.78" y2="533.7" stroke="#000" stroke-width="0.85"/>
<line x1="937.84" y1="526.5" x2="937.84" y2="533.7" stroke="#000" stroke-width="0.85"/>
<line x1="940.89" y1="526.5" x2="940.89" y2="533.7" stroke="#000" stroke-width="0.85"/>
<line x1="943.94" y1="526.5" x2="943.94" y2="533.7" stroke="#000" stroke-width="0.85"/>
<line x1="946.99" y1="526.5" x2="946.99" y2="533.7" stroke="#000" stroke-width="0.85"/>
<line x1="950.04" y1="526.5" x2="950.04" y2="533.7" stroke="#000" stroke-width="0.85"/>
<line x1="953.09" y1="526.5" x2="953.09" y2="533.7" stroke="#000" stroke-width="0.85"/>
<line x1="956.14" y1="526.5" x2="956.14" y2="533.7" stroke="#000" stroke-width="0.85"/>
<line x1="959.20" y1="526.5" x2="959.20" y2="533.7" stroke="#000" stroke-width="0.85"/>
<line x1="962.25" y1="526.5" x2="962.25" y2="533.7" stroke="#000" stroke-width="0.85"/>
<line x1="965.30" y1="526.5" x2="965.30" y2="533.7" stroke="#000" stroke-width="0.85"/>
<line x1="968.35" y1="526.5" x2="968.35" y2="533.7" stroke="#000" stroke-width="0.85"/>
<line x1="971.40" y1="526.5" x2="971.40" y2="533.7" stroke="#000" stroke-width="0.85"/>
<line x1="974.45" y1="526.5" x2="974.45" y2="533.7" stroke="#000" stroke-width="0.85"/>
<line x1="977.50" y1="526.5" x2="977.50" y2="533.7" stroke="#000" stroke-width="0.85"/>
<line x1="980.56" y1="526.5" x2="980.56" y2="533.7" stroke="#000" stroke-width="0.85"/>
<line x1="983.61" y1="526.5" x2="983.61" y2="533.7" stroke="#000" stroke-width="0.85"/>
<line x1="986.66" y1="526.5" x2="986.66" y2="533.7" stroke="#000" stroke-width="0.85"/>
<line x1="989.71" y1="526.5" x2="989.71" y2="533.7" stroke="#000" stroke-width="0.85"/>
<line x1="992.76" y1="526.5" x2="992.76" y2="533.7" stroke="#000" stroke-width="0.85"/>
<line x1="995.81" y1="526.5" x2="995.81" y2="533.7" stroke="#000" stroke-width="0.85"/>
<line x1="998.87" y1="526.5" x2="998.87" y2="533.7" stroke="#000" stroke-width="0.85"/>
<line x1="1001.92" y1="526.5" x2="1001.92" y2="533.7" stroke="#000" stroke-width="0.85"/>
<line x1="1004.97" y1="526.5" x2="1004.97" y2="533.7" stroke="#000" stroke-width="0.85"/>
<line x1="1008.02" y1="526.5" x2="1008.02" y2="533.7" stroke="#000" stroke-width="0.85"/>
<line x1="1011.07" y1="526.5" x2="1011.07" y2="533.7" stroke="#000" stroke-width="0.85"/>
<line x1="1014.12" y1="526.5" x2="1014.12" y2="533.7" stroke="#000" stroke-width="0.85"/>
<line x1="1017.17" y1="526.5" x2="1017.17" y2="533.7" stroke="#000" stroke-width="0.85"/>
<line x1="1020.23" y1="526.5" x2="1020.23" y2="533.7" stroke="#000" stroke-width="0.85"/>
<line x1="1023.28" y1="526.5" x2="1023.28" y2="533.7" stroke="#000" stroke-width="0.85"/>
<line x1="1026.33" y1="526.5" x2="1026.33" y2="533.7" stroke="#000" stroke-width="0.85"/>
<line x1="1029.38" y1="526.5" x2="1029.38" y2="533.7" stroke="#000" stroke-width="0.85"/>
<line x1="1032.43" y1="526.5" x2="1032.43" y2="533.7" stroke="#000" stroke-width="0.85"/>
<line x1="1035.48" y1="526.5" x2="1035.48" y2="533.7" stroke="#000" stroke-width="0.85"/>
<line x1="1038.54" y1="526.5" x2="1038.54" y2="533.7" stroke="#000" stroke-width="0.85"/>
<line x1="1041.59" y1="526.5" x2="1041.59" y2="533.7" stroke="#000" stroke-width="0.85"/>
<line x1="1044.64" y1="526.5" x2="1044.64" y2="533.7" stroke="#000" stroke-width="0.85"/>
<line x1="1047.69" y1="526.5" x2="1047.69" y2="533.7" stroke="#000" stroke-width="0.85"/>
<line x1="1050.74" y1="526.5" x2="1050.74" y2="533.7" stroke="#000" stroke-width="0.85"/>
<line x1="1053.79" y1="526.5" x2="1053.79" y2="533.7" stroke="#000" stroke-width="0.85"/>
<line x1="1056.84" y1="526.5" x2="1056.84" y2="533.7" stroke="#000" stroke-width="0.85"/>
<line x1="1059.90" y1="526.5" x2="1059.90" y2="533.7" stroke="#000" stroke-width="0.85"/>
<line x1="1062.95" y1="526.5" x2="1062.95" y2="533.7" stroke="#000" stroke-width="0.85"/>
<line x1="1066.00" y1="526.5" x2="1066.00" y2="533.7" stroke="#000" stroke-width="0.85"/>
<line x1="1069.05" y1="526.5" x2="1069.05" y2="533.7" stroke="#000" stroke-width="0.85"/>
<line x1="1072.10" y1="526.5" x2="1072.10" y2="533.7" stroke="#000" stroke-width="0.85"/>
<line x1="1075.15" y1="526.5" x2="1075.15" y2="533.7" stroke="#000" stroke-width="0.85"/>
<line x1="1078.20" y1="526.5" x2="1078.20" y2="533.7" stroke="#000" stroke-width="0.85"/>
<line x1="1081.26" y1="526.5" x2="1081.26" y2="533.7" stroke="#000" stroke-width="0.85"/>
<line x1="1084.31" y1="526.5" x2="1084.31" y2="533.7" stroke="#000" stroke-width="0.85"/>
<line x1="1087.36" y1="526.5" x2="1087.36" y2="533.7" stroke="#000" stroke-width="0.85"/>
<line x1="1090.41" y1="526.5" x2="1090.41" y2="533.7" stroke="#000" stroke-width="0.85"/>
<line x1="1093.46" y1="526.5" x2="1093.46" y2="533.7" stroke="#000" stroke-width="0.85"/>
<line x1="1096.51" y1="526.5" x2="1096.51" y2="533.7" stroke="#000" stroke-width="0.85"/>
<line x1="1099.57" y1="526.5" x2="1099.57" y2="533.7" stroke="#000" stroke-width="0.85"/>
<line x1="1102.62" y1="526.5" x2="1102.62" y2="533.7" stroke="#000" stroke-width="0.85"/>
<line x1="1105.67" y1="526.5" x2="1105.67" y2="533.7" stroke="#000" stroke-width="0.85"/>
<line x1="1108.72" y1="526.5" x2="1108.72" y2="533.7" stroke="#000" stroke-width="0.85"/>
<line x1="1111.77" y1="526.5" x2="1111.77" y2="533.7" stroke="#000" stroke-width="0.85"/>
<line x1="1114.82" y1="526.5" x2="1114.82" y2="533.7" stroke="#000" stroke-width="0.85"/>
<line x1="1117.87" y1="526.5" x2="1117.87" y2="533.7" stroke="#000" stroke-width="0.85"/>
<line x1="1120.93" y1="526.5" x2="1120.93" y2="533.7" stroke="#000" stroke-width="0.85"/>
<line x1="1123.98" y1="526.5" x2="1123.98" y2="533.7" stroke="#000" stroke-width="0.85"/>
<line x1="1127.03" y1="526.5" x2="1127.03" y2="533.7" stroke="#000" stroke-width="0.85"/>
<line x1="1130.08" y1="526.5" x2="1130.08" y2="533.7" stroke="#000" stroke-width="0.85"/>
<line x1="1133.13" y1="526.5" x2="1133.13" y2="533.7" stroke="#000" stroke-width="0.85"/>
<line x1="1136.18" y1="526.5" x2="1136.18" y2="533.7" stroke="#000" stroke-width="0.85"/>
<line x1="1139.23" y1="526.5" x2="1139.23" y2="533.7" stroke="#000" stroke-width="0.85"/>
<line x1="1142.29" y1="526.5" x2="1142.29" y2="533.7" stroke="#000" stroke-width="0.85"/>
<line x1="1145.34" y1="526.5" x2="1145.34" y2="533.7" stroke="#000" stroke-width="0.85"/>
<line x1="1148.39" y1="526.5" x2="1148.39" y2="533.7" stroke="#000" stroke-width="0.85"/>
<line x1="1151.44" y1="526.5" x2="1151.44" y2="533.7" stroke="#000" stroke-width="0.85"/>
<line x1="1154.49" y1="526.5" x2="1154.49" y2="533.7" stroke="#000" stroke-width="0.85"/>
<line x1="1157.54" y1="526.5" x2="1157.54" y2="533.7" stroke="#000" stroke-width="0.85"/>
<line x1="1160.60" y1="526.5" x2="1160.60" y2="533.7" stroke="#000" stroke-width="0.85"/>
<line x1="1163.65" y1="526.5" x2="1163.65" y2="533.7" stroke="#000" stroke-width="0.85"/>
<line x1="1166.70" y1="526.5" x2="1166.70" y2="533.7" stroke="#000" stroke-width="0.85"/>
<line x1="1169.75" y1="526.5" x2="1169.75" y2="533.7" stroke="#000" stroke-width="0.85"/>
<text class="sans" font-size="10.2" text-anchor="middle" transform="translate(59.0,552.3) scale(0.805,1)">sty 01</text>
<text class="sans" font-size="10.2" text-anchor="middle" transform="translate(89.5,552.3) scale(0.805,1)">sty 11</text>
<text class="sans" font-size="10.2" text-anchor="middle" transform="translate(120.0,552.3) scale(0.805,1)">sty 21</text>
<text class="sans" font-size="10.2" text-anchor="middle" transform="translate(150.5,552.3) scale(0.805,1)">sty 31</text>
<text class="sans" font-size="10.2" text-anchor="middle" transform="translate(181.1,552.3) scale(0.805,1)">lut 10</text>
<text class="sans" font-size="10.2" text-anchor="middle" transform="translate(211.6,552.3) scale(0.805,1)">lut 20</text>
<text class="sans" font-size="10.2" text-anchor="middle" transform="translate(245.1,552.3) scale(0.805,1)">mar 03</text>
<text class="sans" font-size="10.2" text-anchor="middle" transform="translate(281.8,552.3) scale(0.805,1)">mar 15</text>
<text class="sans" font-size="10.2" text-anchor="middle" transform="translate(318.4,552.3) scale(0.805,1)">mar 27</text>
<text class="sans" font-size="10.2" text-anchor="middle" transform="translate(351.9,552.3) scale(0.805,1)">kwi 07</text>
<text class="sans" font-size="10.2" text-anchor="middle" transform="translate(385.5,552.3) scale(0.805,1)">kwi 18</text>
<text class="sans" font-size="10.2" text-anchor="middle" transform="translate(419.1,552.3) scale(0.805,1)">kwi 29</text>
<text class="sans" font-size="10.2" text-anchor="middle" transform="translate(452.6,552.3) scale(0.805,1)">maj 10</text>
<text class="sans" font-size="10.2" text-anchor="middle" transform="translate(486.2,552.3) scale(0.805,1)">maj 21</text>
<text class="sans" font-size="10.2" text-anchor="middle" transform="translate(519.8,552.3) scale(0.805,1)">cze 01</text>
<text class="sans" font-size="10.2" text-anchor="middle" transform="translate(553.3,552.3) scale(0.805,1)">cze 12</text>
<text class="sans" font-size="10.2" text-anchor="middle" transform="translate(586.9,552.3) scale(0.805,1)">cze 23</text>
<text class="sans" font-size="10.2" text-anchor="middle" transform="translate(617.4,552.3) scale(0.805,1)">lip 03</text>
<text class="sans" font-size="10.2" text-anchor="middle" transform="translate(647.9,552.3) scale(0.805,1)">lip 13</text>
<text class="sans" font-size="10.2" text-anchor="middle" transform="translate(678.5,552.3) scale(0.805,1)">lip 23</text>
<text class="sans" font-size="10.2" text-anchor="middle" transform="translate(709.0,552.3) scale(0.805,1)">sie 02</text>
<text class="sans" font-size="10.2" text-anchor="middle" transform="translate(739.5,552.3) scale(0.805,1)">sie 12</text>
<text class="sans" font-size="10.2" text-anchor="middle" transform="translate(770.0,552.3) scale(0.805,1)">sie 22</text>
<text class="sans" font-size="10.2" text-anchor="middle" transform="translate(803.6,552.3) scale(0.805,1)">wrz 02</text>
<text class="sans" font-size="10.2" text-anchor="middle" transform="translate(837.1,552.3) scale(0.805,1)">wrz 13</text>
<text class="sans" font-size="10.2" text-anchor="middle" transform="translate(870.7,552.3) scale(0.805,1)">wrz 24</text>
<text class="sans" font-size="10.2" text-anchor="middle" transform="translate(904.3,552.3) scale(0.805,1)">paź 05</text>
<text class="sans" font-size="10.2" text-anchor="middle" transform="translate(937.8,552.3) scale(0.805,1)">paź 16</text>
<text class="sans" font-size="10.2" text-anchor="middle" transform="translate(971.4,552.3) scale(0.805,1)">paź 27</text>
<text class="sans" font-size="10.2" text-anchor="middle" transform="translate(1001.9,552.3) scale(0.805,1)">lis 06</text>
<text class="sans" font-size="10.2" text-anchor="middle" transform="translate(1029.4,552.3) scale(0.805,1)">lis 15</text>
<text class="sans" font-size="10.2" text-anchor="middle" transform="translate(1056.8,552.3) scale(0.805,1)">lis 24</text>
<text class="sans" font-size="10.2" text-anchor="middle" transform="translate(1087.4,552.3) scale(0.805,1)">gru 04</text>
<text class="sans" font-size="10.2" text-anchor="middle" transform="translate(1120.9,552.3) scale(0.805,1)">gru 15</text>
<text class="sans" font-size="10.2" text-anchor="middle" transform="translate(1154.5,552.3) scale(0.805,1)">gru 26</text>
<text class="sans" font-size="12" text-anchor="middle" x="614" y="581.5">Data</text>
<text class="sans" font-size="12" text-anchor="middle" transform="translate(13.5,293) rotate(-90)">Temperatura</text>
<text class="mono" font-size="16.58" x="58.5" y="19">Przebieg temperatury w roku 2025</text>
<text class="mono" font-size="16.58" x="57.5" y="41">Region: Morze Czukockie</text>
<text class="mono" font-size="16.58" text-anchor="end" x="1173" y="19" style="font-size:16.5px">Dane: Reanaliza ERA5 (ECMWF)</text>
<text class="mono sm" font-size="10" text-anchor="end" x="1159" y="38">Wizualizacja: Meteomodel.pl</text>
<text class="mono sm" font-size="11.6" text-anchor="middle" x="613.5" y="53">Ostatnie dane: 2025-10-21 (-2.2°C, anomalia (1981-2010): 2.3°C)</text>
<line x1="97.5" y1="82.5" x2="150.8" y2="82.5" stroke="#000" stroke-width="2.5"  stroke-linecap="round"/>
<text class="sans" font-size="12.15" x="162" y="86.8">2022</text>
<line x1="97.0" y1="96.9" x2="151.3" y2="96.9" stroke="#0000ff" stroke-width="0.8"  stroke-linecap="butt"/>
<text class="sans" font-size="12.15" x="162" y="101.2">1981-1990</text>
<line x1="97.0" y1="111.3" x2="151.3" y2="111.3" stroke="#006400" stroke-width="0.8"  stroke-linecap="butt"/>
<text class="sans" font-size="12.15" x="162" y="115.6">1991-2000</text>
<line x1="97.0" y1="125.4" x2="151.3" y2="125.4" stroke="#ffc800" stroke-width="0.8"  stroke-linecap="butt"/>
<text class="sans" font-size="12.15" x="162" y="130.0">2001-2010</text>
<line x1="97.0" y1="140.1" x2="151.3" y2="140.1" stroke="#ff0000" stroke-width="0.8"  stroke-linecap="butt"/>
<text class="sans" font-size="12.15" x="162" y="144.4">2011-2020</text>
<line x1="97.5" y1="154.6" x2="151.5" y2="154.6" stroke="#ff0000" stroke-width="1.6" stroke-dasharray="6,6" stroke-linecap="round"/>
<text class="sans" font-size="12.15" x="162" y="158.8">1991-2020</text>
<line x1="97.5" y1="169.0" x2="151.5" y2="169.0" stroke="#0000ff" stroke-width="1.6" stroke-dasharray="6,6" stroke-linecap="round"/>
<text class="sans" font-size="12.15" x="162" y="173.2">1951-1980</text>
<line x1="97.3" y1="183.4" x2="150.4" y2="183.4" stroke="#e6e6e6" stroke-width="4.6"  stroke-linecap="round"/>
<text class="sans" font-size="12.15" x="162" y="187.6">max-min 1950-2021</text>
</svg></body></html>
